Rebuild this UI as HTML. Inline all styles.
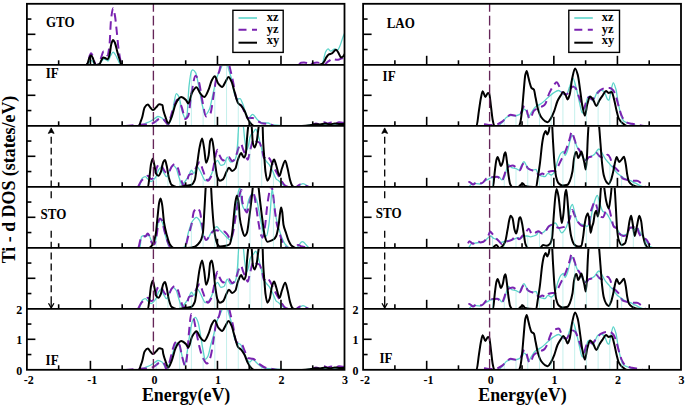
<!DOCTYPE html><html><head><meta charset="utf-8"><style>html,body{margin:0;padding:0;background:#fff;}svg{display:block;}</style></head><body>
<svg width="685" height="406" viewBox="0 0 685 406">
<rect width="685" height="406" fill="#fff"/>
<defs>
<clipPath id="cL0"><rect x="26.90" y="4.70" width="317.60" height="59.20"/></clipPath>
<clipPath id="cL1"><rect x="26.90" y="65.70" width="317.60" height="59.20"/></clipPath>
<clipPath id="cL2"><rect x="26.90" y="126.70" width="317.60" height="59.20"/></clipPath>
<clipPath id="cL3"><rect x="26.90" y="187.70" width="317.60" height="59.20"/></clipPath>
<clipPath id="cL4"><rect x="26.90" y="248.70" width="317.60" height="59.20"/></clipPath>
<clipPath id="cL5"><rect x="26.90" y="309.70" width="317.60" height="59.20"/></clipPath>
<clipPath id="cR0"><rect x="363.10" y="4.70" width="317.90" height="59.20"/></clipPath>
<clipPath id="cR1"><rect x="363.10" y="65.70" width="317.90" height="59.20"/></clipPath>
<clipPath id="cR2"><rect x="363.10" y="126.70" width="317.90" height="59.20"/></clipPath>
<clipPath id="cR3"><rect x="363.10" y="187.70" width="317.90" height="59.20"/></clipPath>
<clipPath id="cR4"><rect x="363.10" y="248.70" width="317.90" height="59.20"/></clipPath>
<clipPath id="cR5"><rect x="363.10" y="309.70" width="317.90" height="59.20"/></clipPath>
</defs>
<g clip-path="url(#cL0)" fill="none" stroke-linejoin="round" stroke-linecap="butt">
<path d="M80.00,65.05 C82.33,65.05 84.67,65.05 87.00,65.05 C87.67,65.05 88.33,62.94 89.00,62.20 C89.67,61.46 90.33,60.40 91.00,60.40 C91.67,60.40 92.33,61.30 93.00,62.00 C93.67,62.70 94.33,65.05 95.00,65.05 C96.33,65.05 97.67,64.58 99.00,64.00 C99.83,63.64 100.67,62.37 101.50,61.50 C102.33,60.63 103.17,58.80 104.00,58.80 C104.67,58.80 105.33,59.44 106.00,59.80 C106.67,60.16 107.33,61.00 108.00,61.00 C108.83,61.00 109.67,57.41 110.50,56.00 C111.37,54.53 112.23,52.20 113.10,52.20 C113.90,52.20 114.70,53.82 115.50,55.00 C116.33,56.23 117.17,58.47 118.00,60.00 C119.00,61.83 120.00,65.05 121.00,65.05 C121.67,65.05 122.33,65.05 123.00,65.05 C188.67,65.05 254.33,65.05 320.00,65.05 C320.77,65.05 321.53,64.38 322.30,63.60 C323.43,62.44 324.57,53.69 325.70,51.70 C326.47,50.36 327.23,48.90 328.00,48.90 C328.93,48.90 329.87,51.20 330.80,51.20 C332.13,51.20 333.47,48.90 334.80,48.90 C335.73,48.90 336.67,50.00 337.60,50.00 C338.37,50.00 339.13,47.65 339.90,46.00 C340.93,43.78 341.97,39.60 343.00,37.00 C343.67,35.33 344.33,34.00 345.00,32.50" stroke="#5cd4ca" stroke-width="1.3"/>
<path d="M80.00,65.05 C82.17,65.05 84.33,65.05 86.50,65.05 C87.17,65.05 87.83,61.93 88.50,60.00 C89.00,58.55 89.50,56.10 90.00,55.00 C90.33,54.27 90.67,53.30 91.00,53.30 C91.50,53.30 92.00,54.51 92.50,55.50 C93.17,56.82 93.83,60.35 94.50,62.00 C95.00,63.24 95.50,65.05 96.00,65.05 C97.00,65.05 98.00,64.66 99.00,64.00 C99.67,63.56 100.33,59.83 101.00,58.00 C101.90,55.52 102.80,51.20 103.70,51.20 C104.40,51.20 105.10,52.22 105.80,53.00 C106.37,53.63 106.93,55.60 107.50,55.60 C108.17,55.60 108.83,50.50 109.50,45.00 C110.00,40.88 110.50,24.29 111.00,20.00 C111.70,13.99 112.40,8.30 113.10,8.30 C113.73,8.30 114.37,12.46 115.00,16.00 C115.60,19.35 116.20,26.46 116.80,32.00 C117.40,37.54 118.00,44.81 118.60,49.30 C119.07,52.79 119.53,55.66 120.00,58.00 C120.43,60.18 120.87,62.83 121.30,63.50 C121.87,64.38 122.43,65.05 123.00,65.05 C181.33,65.05 239.67,65.05 298.00,65.05 C299.00,65.05 300.00,62.98 301.00,62.80 C302.00,62.62 303.00,62.50 304.00,62.50 C305.00,62.50 306.00,62.73 307.00,63.00 C308.00,63.27 309.00,65.05 310.00,65.05 C311.00,65.05 312.00,63.45 313.00,63.20 C314.33,62.87 315.67,62.60 317.00,62.60 C318.00,62.60 319.00,62.79 320.00,63.00 C321.33,63.27 322.67,65.05 324.00,65.05 C325.13,65.05 326.27,62.87 327.40,62.00 C328.53,61.13 329.67,60.48 330.80,59.70 C331.37,59.31 331.93,58.50 332.50,58.50 C333.33,58.50 334.17,59.41 335.00,59.50 C336.07,59.62 337.13,59.70 338.20,59.70 C339.13,59.70 340.07,58.89 341.00,58.60 C341.77,58.36 342.53,58.30 343.30,58.00 C343.87,57.78 344.43,57.20 345.00,56.80" stroke="#7a22b0" stroke-width="2" stroke-dasharray="8.5,5"/>
<path d="M80.00,65.05 C82.00,65.05 84.00,65.05 86.00,65.05 C86.50,65.05 87.00,64.26 87.50,63.50 C88.10,62.59 88.70,59.25 89.30,58.00 C89.87,56.82 90.43,55.30 91.00,55.30 C91.60,55.30 92.20,56.80 92.80,58.00 C93.37,59.13 93.93,61.95 94.50,63.00 C95.00,63.93 95.50,65.05 96.00,65.05 C97.17,65.05 98.33,64.65 99.50,64.00 C100.17,63.63 100.83,61.09 101.50,60.00 C102.10,59.02 102.70,57.50 103.30,57.50 C104.03,57.50 104.77,57.91 105.50,58.20 C106.20,58.48 106.90,59.30 107.60,59.30 C108.23,59.30 108.87,57.10 109.50,55.00 C110.10,53.01 110.70,45.99 111.30,44.00 C111.90,42.01 112.50,39.90 113.10,39.90 C113.73,39.90 114.37,41.58 115.00,43.00 C115.83,44.87 116.67,49.58 117.50,52.50 C118.27,55.19 119.03,57.82 119.80,60.00 C120.47,61.89 121.13,65.05 121.80,65.05 C122.20,65.05 122.60,65.05 123.00,65.05 C182.00,65.05 241.00,65.05 300.00,65.05 C304.00,65.05 308.00,65.05 312.00,65.05 C314.00,65.05 316.00,65.05 318.00,65.05 C319.33,65.05 320.67,64.60 322.00,64.00 C322.83,63.62 323.67,62.27 324.50,61.00 C325.10,60.09 325.70,58.34 326.30,57.40 C327.03,56.25 327.77,55.01 328.50,54.60 C329.67,53.94 330.83,53.98 332.00,53.40 C333.30,52.75 334.60,49.70 335.90,49.70 C336.67,49.70 337.43,51.24 338.20,52.30 C339.13,53.59 340.07,57.40 341.00,57.40 C341.77,57.40 342.53,56.89 343.30,56.30 C343.87,55.86 344.43,54.37 345.00,53.40" stroke="#000" stroke-width="2"/>
</g>
<g clip-path="url(#cL1)" fill="none" stroke-linejoin="round" stroke-linecap="butt">
<path d="M125.00,126.05 C130.00,126.05 135.00,126.05 140.00,126.05 C141.67,126.05 143.33,124.25 145.00,123.50 C146.67,122.75 148.33,122.33 150.00,121.50 C151.73,120.64 153.47,119.15 155.20,118.10 C156.13,117.53 157.07,116.50 158.00,116.50 C159.33,116.50 160.67,117.25 162.00,118.00 C163.33,118.75 164.67,121.68 166.00,122.50 C167.00,123.11 168.00,123.80 169.00,123.80 C170.00,123.80 171.00,119.82 172.00,116.00 C172.67,113.45 173.33,106.34 174.00,103.00 C174.77,99.16 175.53,93.70 176.30,93.70 C177.20,93.70 178.10,95.28 179.00,97.00 C180.00,98.91 181.00,107.80 182.00,110.80 C183.10,114.10 184.20,118.10 185.30,118.10 C185.87,118.10 186.43,116.80 187.00,115.00 C187.67,112.89 188.33,92.23 189.00,86.40 C189.83,79.12 190.67,72.24 191.50,71.00 C191.93,70.35 192.37,69.80 192.80,69.80 C193.73,69.80 194.67,71.11 195.60,72.60 C196.67,74.31 197.73,81.28 198.80,86.40 C199.90,91.68 201.00,99.81 202.10,104.30 C203.17,108.66 204.23,114.80 205.30,114.80 C206.67,114.80 208.03,112.04 209.40,109.20 C210.77,106.36 212.13,96.91 213.50,91.30 C214.83,85.83 216.17,79.51 217.50,75.80 C218.87,71.99 220.23,70.73 221.60,66.90 C222.23,65.12 222.87,60.00 223.50,60.00 C224.33,60.00 225.17,60.42 226.00,61.00 C226.97,61.67 227.93,66.92 228.90,70.10 C230.00,73.71 231.10,76.80 232.20,81.50 C233.00,84.91 233.80,92.27 234.60,94.50 C235.40,96.73 236.20,99.00 237.00,99.00 C238.00,99.00 239.00,98.60 240.00,98.60 C240.97,98.60 241.93,102.00 242.90,104.30 C243.97,106.83 245.03,111.76 246.10,114.00 C246.93,115.75 247.77,118.10 248.60,118.10 C249.93,118.10 251.27,114.40 252.60,114.40 C254.23,114.40 255.87,118.34 257.50,119.70 C259.13,121.06 260.77,123.00 262.40,123.00 C264.30,123.00 266.20,123.00 268.10,123.00 C269.43,123.00 270.77,124.88 272.10,125.00 C281.40,125.83 290.70,126.05 300.00,126.05 C305.00,126.05 310.00,124.50 315.00,124.50 C320.00,124.50 325.00,124.80 330.00,124.80 C335.00,124.80 340.00,124.60 345.00,124.50" stroke="#5cd4ca" stroke-width="1.3"/>
<path d="M125.00,126.05 C131.00,125.57 137.00,124.99 143.00,124.60 C145.33,124.45 147.67,124.45 150.00,124.20 C151.67,124.02 153.33,122.99 155.00,122.00 C156.00,121.41 157.00,120.05 158.00,119.50 C159.23,118.82 160.47,118.00 161.70,118.00 C162.80,118.00 163.90,119.87 165.00,121.00 C166.00,122.02 167.00,124.50 168.00,124.50 C169.17,124.50 170.33,117.50 171.50,114.00 C172.50,111.00 173.50,107.36 174.50,105.00 C175.40,102.87 176.30,99.70 177.20,99.70 C178.13,99.70 179.07,101.47 180.00,103.00 C180.67,104.09 181.33,106.12 182.00,108.00 C183.10,111.10 184.20,118.90 185.30,118.90 C186.30,118.90 187.30,117.54 188.30,115.70 C189.37,113.74 190.43,98.57 191.50,92.90 C192.87,85.63 194.23,75.80 195.60,75.80 C196.67,75.80 197.73,78.65 198.80,81.50 C199.90,84.44 201.00,94.12 202.10,99.40 C203.43,105.80 204.77,116.50 206.10,116.50 C207.47,116.50 208.83,115.54 210.20,114.00 C211.30,112.76 212.40,102.42 213.50,96.10 C214.57,89.98 215.63,79.74 216.70,76.60 C217.50,74.25 218.30,73.98 219.10,71.80 C219.73,70.07 220.37,65.47 221.00,64.00 C222.33,60.90 223.67,58.00 225.00,58.00 C226.17,58.00 227.33,59.71 228.50,62.00 C228.90,62.79 229.30,65.21 229.70,66.90 C230.80,71.54 231.90,76.29 233.00,81.50 C234.07,86.55 235.13,95.04 236.20,97.80 C237.30,100.64 238.40,101.93 239.50,103.50 C240.37,104.74 241.23,105.33 242.10,106.70 C243.17,108.39 244.23,111.98 245.30,114.00 C246.13,115.58 246.97,118.10 247.80,118.10 C249.40,118.10 251.00,118.10 252.60,118.10 C254.23,118.10 255.87,120.07 257.50,120.90 C259.40,121.87 261.30,123.32 263.20,123.50 C265.10,123.68 267.00,123.63 268.90,123.80 C270.93,123.99 272.97,126.05 275.00,126.05 C283.33,126.05 291.67,126.05 300.00,126.05 C303.33,126.05 306.67,126.05 310.00,126.05 C311.00,126.05 312.00,125.02 313.00,124.60 C314.00,124.18 315.00,123.50 316.00,123.50 C317.33,123.50 318.67,124.50 320.00,124.50 C321.33,124.50 322.67,122.30 324.00,122.30 C325.33,122.30 326.67,123.50 328.00,123.50 C329.00,123.50 330.00,122.50 331.00,122.50 C332.33,122.50 333.67,124.00 335.00,124.00 C336.33,124.00 337.67,122.30 339.00,122.30 C340.33,122.30 341.67,122.80 343.00,122.80 C343.67,122.80 344.33,122.60 345.00,122.50" stroke="#7a22b0" stroke-width="2" stroke-dasharray="8.5,5"/>
<path d="M125.00,126.05 C129.67,126.05 134.33,126.05 139.00,126.05 C139.50,126.05 140.00,123.37 140.50,122.00 C141.07,120.45 141.63,119.15 142.20,117.30 C143.00,114.69 143.80,108.70 144.60,107.50 C145.70,105.85 146.80,104.60 147.90,104.60 C148.70,104.60 149.50,106.62 150.30,107.50 C151.13,108.41 151.97,110.00 152.80,110.00 C153.87,110.00 154.93,108.42 156.00,107.50 C157.10,106.55 158.20,104.30 159.30,104.30 C159.87,104.30 160.43,104.46 161.00,104.60 C161.50,104.72 162.00,104.79 162.50,105.20 C162.77,105.42 163.03,108.84 163.30,110.00 C164.03,113.20 164.77,114.98 165.50,117.00 C166.40,119.48 167.30,123.50 168.20,123.50 C169.30,123.50 170.40,119.90 171.50,117.30 C172.83,114.15 174.17,107.31 175.50,104.30 C176.50,102.04 177.50,100.04 178.50,99.00 C179.40,98.07 180.30,97.00 181.20,97.00 C182.83,97.00 184.47,98.64 186.10,100.20 C186.83,100.90 187.57,103.50 188.30,103.50 C189.63,103.50 190.97,94.35 192.30,92.10 C193.67,89.79 195.03,87.20 196.40,87.20 C197.73,87.20 199.07,92.19 200.40,93.70 C201.67,95.13 202.93,97.00 204.20,97.00 C205.67,97.00 207.13,92.81 208.60,89.60 C209.57,87.49 210.53,82.90 211.50,81.00 C212.60,78.84 213.70,76.20 214.80,76.20 C215.93,76.20 217.07,82.05 218.20,83.50 C219.50,85.16 220.80,87.00 222.10,87.00 C223.27,87.00 224.43,83.41 225.60,81.60 C226.57,80.10 227.53,77.10 228.50,77.10 C229.50,77.10 230.50,79.52 231.50,81.60 C232.47,83.61 233.43,88.21 234.40,91.40 C235.60,95.36 236.80,101.36 238.00,103.00 C239.10,104.51 240.20,104.67 241.30,105.90 C242.37,107.09 243.43,108.79 244.50,110.80 C245.60,112.87 246.70,116.83 247.80,118.90 C248.87,120.91 249.93,122.79 251.00,123.80 C252.10,124.84 253.20,126.05 254.30,126.05 C269.53,126.05 284.77,126.05 300.00,126.05 C303.67,126.05 307.33,125.50 311.00,125.00 C312.33,124.82 313.67,124.20 315.00,124.20 C316.67,124.20 318.33,124.50 320.00,124.50 C321.67,124.50 323.33,123.50 325.00,123.50 C326.67,123.50 328.33,124.30 330.00,124.30 C331.67,124.30 333.33,123.50 335.00,123.50 C336.67,123.50 338.33,124.00 340.00,124.00 C341.67,124.00 343.33,123.87 345.00,123.80" stroke="#000" stroke-width="2"/>
</g>
<g clip-path="url(#cL2)" fill="none" stroke-linejoin="round" stroke-linecap="butt">
<path d="M125.00,187.05 C129.63,187.05 134.27,187.05 138.90,187.05 C140.00,187.05 141.10,179.22 142.20,178.30 C143.27,177.41 144.33,176.70 145.40,176.70 C146.23,176.70 147.07,178.39 147.90,179.10 C148.97,180.00 150.03,181.50 151.10,181.50 C152.73,181.50 154.37,179.17 156.00,176.70 C156.83,175.44 157.67,171.17 158.50,170.00 C159.30,168.87 160.10,167.70 160.90,167.70 C161.70,167.70 162.50,170.52 163.30,171.80 C164.40,173.55 165.50,176.70 166.60,176.70 C167.67,176.70 168.73,172.03 169.80,170.20 C170.90,168.31 172.00,165.30 173.10,165.30 C174.17,165.30 175.23,166.83 176.30,168.50 C177.13,169.81 177.97,174.36 178.80,176.70 C179.87,179.70 180.93,184.50 182.00,184.50 C183.00,184.50 184.00,182.68 185.00,181.50 C186.10,180.20 187.20,178.57 188.30,176.70 C189.37,174.89 190.43,170.20 191.50,170.20 C192.30,170.20 193.10,173.40 193.90,173.40 C195.00,173.40 196.10,166.90 197.20,166.90 C198.00,166.90 198.80,168.74 199.60,170.00 C200.57,171.53 201.53,174.21 202.50,176.00 C203.43,177.73 204.37,180.70 205.30,180.70 C206.13,180.70 206.97,180.32 207.80,179.90 C209.13,179.22 210.47,176.22 211.80,173.40 C212.90,171.08 214.00,165.72 215.10,163.70 C215.90,162.23 216.70,160.40 217.50,160.40 C218.60,160.40 219.70,165.30 220.80,165.30 C221.87,165.30 222.93,164.98 224.00,164.50 C225.10,164.01 226.20,157.10 227.30,157.10 C228.37,157.10 229.43,162.00 230.50,162.00 C231.60,162.00 232.70,161.70 233.80,161.20 C234.53,160.87 235.27,159.35 236.00,157.00 C236.50,155.40 237.00,150.30 237.50,145.00 C237.93,140.40 238.37,127.42 238.80,125.00 C239.53,120.90 240.27,118.00 241.00,118.00 C241.73,118.00 242.47,121.41 243.20,125.00 C243.73,127.61 244.27,136.49 244.80,140.20 C245.40,144.38 246.00,150.00 246.60,150.00 C247.23,150.00 247.87,147.26 248.50,145.00 C249.00,143.21 249.50,138.45 250.00,137.00 C250.50,135.55 251.00,134.68 251.50,134.00 C252.17,133.10 252.83,132.74 253.50,132.00 C254.27,131.15 255.03,129.10 255.80,129.10 C256.37,129.10 256.93,131.42 257.50,133.00 C258.17,134.86 258.83,137.70 259.50,140.20 C260.33,143.32 261.17,146.95 262.00,150.00 C262.83,153.05 263.67,156.93 264.50,158.60 C265.30,160.20 266.10,160.97 266.90,162.00 C267.83,163.20 268.77,163.93 269.70,165.30 C270.80,166.91 271.90,169.47 273.00,171.80 C274.07,174.06 275.13,178.06 276.20,179.10 C277.03,179.91 277.87,180.05 278.70,180.70 C279.77,181.53 280.83,183.25 281.90,184.00 C283.93,185.42 285.97,187.05 288.00,187.05 C290.67,187.05 293.33,187.05 296.00,187.05 C298.33,187.05 300.67,183.60 303.00,183.60 C305.33,183.60 307.67,187.05 310.00,187.05 C321.67,187.05 333.33,187.05 345.00,187.05" stroke="#5cd4ca" stroke-width="1.3"/>
<path d="M125.00,187.05 C129.10,187.05 133.20,187.05 137.30,187.05 C138.67,187.05 140.03,182.14 141.40,180.70 C142.73,179.30 144.07,178.47 145.40,177.50 C146.23,176.89 147.07,175.80 147.90,175.80 C148.97,175.80 150.03,179.10 151.10,179.10 C152.20,179.10 153.30,178.09 154.40,176.70 C155.20,175.69 156.00,169.50 156.80,167.70 C157.63,165.83 158.47,163.70 159.30,163.70 C160.10,163.70 160.90,165.10 161.70,166.10 C162.80,167.47 163.90,170.95 165.00,171.80 C166.07,172.62 167.13,173.40 168.20,173.40 C169.30,173.40 170.40,168.26 171.50,166.90 C172.57,165.58 173.63,164.00 174.70,164.00 C175.80,164.00 176.90,166.33 178.00,168.50 C179.07,170.61 180.13,176.96 181.20,179.90 C182.03,182.20 182.87,185.60 183.70,185.60 C184.77,185.60 185.83,183.49 186.90,181.50 C187.60,180.19 188.30,175.53 189.00,175.00 C190.37,173.97 191.73,174.29 193.10,173.40 C194.47,172.51 195.83,167.48 197.20,165.30 C198.00,164.02 198.80,162.00 199.60,162.00 C200.70,162.00 201.80,167.34 202.90,170.20 C203.70,172.28 204.50,175.09 205.30,176.70 C206.13,178.38 206.97,180.70 207.80,180.70 C208.87,180.70 209.93,178.77 211.00,176.70 C211.83,175.09 212.67,170.69 213.50,166.90 C214.30,163.26 215.10,156.62 215.90,153.90 C216.43,152.09 216.97,149.80 217.50,149.80 C218.33,149.80 219.17,154.85 220.00,156.30 C221.07,158.16 222.13,160.40 223.20,160.40 C224.30,160.40 225.40,158.54 226.50,158.00 C227.30,157.61 228.10,157.10 228.90,157.10 C230.00,157.10 231.10,161.20 232.20,161.20 C232.90,161.20 233.60,160.52 234.30,159.80 C235.13,158.94 235.97,155.97 236.80,153.70 C237.60,151.52 238.40,147.75 239.20,146.30 C239.83,145.15 240.47,143.80 241.10,143.80 C241.70,143.80 242.30,147.25 242.90,148.80 C243.93,151.47 244.97,153.97 246.00,156.20 C246.60,157.50 247.20,159.80 247.80,159.80 C248.43,159.80 249.07,154.97 249.70,152.50 C250.53,149.25 251.37,144.82 252.20,142.60 C252.80,141.00 253.40,138.90 254.00,138.90 C254.83,138.90 255.67,140.92 256.50,141.40 C257.50,141.98 258.50,141.88 259.50,142.60 C260.33,143.20 261.17,147.15 262.00,150.00 C262.67,152.28 263.33,158.00 264.00,158.00 C264.83,158.00 265.67,155.50 266.50,155.50 C267.57,155.50 268.63,157.36 269.70,158.80 C270.80,160.29 271.90,163.10 273.00,165.30 C274.07,167.43 275.13,169.81 276.20,171.80 C277.30,173.85 278.40,175.64 279.50,177.50 C280.30,178.86 281.10,180.35 281.90,181.50 C283.00,183.08 284.10,185.04 285.20,185.60 C286.80,186.41 288.40,187.05 290.00,187.05 C292.00,187.05 294.00,187.05 296.00,187.05 C297.33,187.05 298.67,184.50 300.00,184.50 C301.67,184.50 303.33,185.09 305.00,185.50 C306.67,185.91 308.33,187.05 310.00,187.05 C321.67,187.05 333.33,187.05 345.00,187.05" stroke="#7a22b0" stroke-width="2" stroke-dasharray="8.5,5"/>
<path d="M125.00,187.05 C132.63,187.05 140.27,187.05 147.90,187.05 C148.43,187.05 148.97,180.54 149.50,176.70 C150.03,172.86 150.57,165.98 151.10,163.70 C151.67,161.28 152.23,158.80 152.80,158.80 C153.33,158.80 153.87,162.90 154.40,165.30 C154.93,167.70 155.47,172.49 156.00,173.40 C156.83,174.82 157.67,175.80 158.50,175.80 C159.30,175.80 160.10,173.69 160.90,171.80 C161.70,169.91 162.50,163.36 163.30,162.00 C163.87,161.04 164.43,160.10 165.00,160.10 C165.53,160.10 166.07,163.17 166.60,165.30 C167.40,168.50 168.20,175.48 169.00,178.30 C169.83,181.23 170.67,184.17 171.50,184.80 C173.40,186.24 175.30,187.05 177.20,187.05 C179.80,187.05 182.40,186.41 185.00,186.00 C187.17,185.66 189.33,185.58 191.50,184.80 C192.60,184.41 193.70,182.67 194.80,179.90 C195.60,177.88 196.40,169.12 197.20,163.70 C198.00,158.28 198.80,151.17 199.60,147.40 C200.43,143.47 201.27,138.40 202.10,138.40 C202.80,138.40 203.50,144.82 204.20,149.00 C204.83,152.78 205.47,162.80 206.10,162.80 C206.93,162.80 207.77,159.33 208.60,155.50 C209.13,153.05 209.67,142.32 210.20,140.90 C210.73,139.48 211.27,138.40 211.80,138.40 C212.37,138.40 212.93,143.44 213.50,147.40 C214.03,151.13 214.57,159.71 215.10,163.70 C215.90,169.69 216.70,175.82 217.50,177.50 C218.33,179.25 219.17,180.70 220.00,180.70 C221.07,180.70 222.13,179.97 223.20,179.10 C224.30,178.21 225.40,173.91 226.50,171.80 C227.30,170.27 228.10,167.70 228.90,167.70 C230.00,167.70 231.10,171.00 232.20,171.00 C233.27,171.00 234.33,169.93 235.40,168.50 C236.10,167.56 236.80,163.20 237.50,161.00 C238.07,159.22 238.63,157.38 239.20,156.20 C239.83,154.88 240.47,153.10 241.10,153.10 C241.70,153.10 242.30,155.49 242.90,156.20 C243.33,156.71 243.77,157.40 244.20,157.40 C244.73,157.40 245.27,155.81 245.80,153.70 C246.27,151.86 246.73,141.38 247.20,136.50 C247.73,130.92 248.27,124.18 248.80,122.00 C249.30,119.95 249.80,118.00 250.30,118.00 C250.80,118.00 251.30,123.31 251.80,128.00 C252.13,131.13 252.47,140.96 252.80,142.60 C253.40,145.55 254.00,147.50 254.60,147.50 C255.23,147.50 255.87,145.00 256.50,142.60 C257.17,140.07 257.83,132.20 258.50,128.00 C259.10,124.22 259.70,118.00 260.30,118.00 C261.03,118.00 261.77,119.78 262.50,124.00 C262.73,125.34 262.97,138.30 263.20,142.60 C263.63,150.58 264.07,154.53 264.50,160.00 C264.83,164.21 265.17,169.61 265.50,172.00 C266.10,176.31 266.70,180.70 267.30,180.70 C268.10,180.70 268.90,178.74 269.70,176.70 C270.50,174.66 271.30,166.05 272.10,163.70 C272.77,161.74 273.43,159.60 274.10,159.60 C274.80,159.60 275.50,163.26 276.20,165.30 C277.30,168.50 278.40,175.80 279.50,175.80 C280.30,175.80 281.10,170.64 281.90,168.50 C283.00,165.55 284.10,160.70 285.20,160.70 C286.00,160.70 286.80,165.41 287.60,168.50 C288.40,171.59 289.20,177.17 290.00,179.90 C290.67,182.18 291.33,184.42 292.00,185.30 C292.67,186.18 293.33,187.05 294.00,187.05 C311.00,187.05 328.00,187.05 345.00,187.05" stroke="#000" stroke-width="2"/>
</g>
<g clip-path="url(#cL3)" fill="none" stroke-linejoin="round" stroke-linecap="butt">
<path d="M125.00,248.05 C129.93,248.05 134.87,248.05 139.80,248.05 C140.33,248.05 140.87,237.29 141.40,236.80 C142.20,236.07 143.00,235.70 143.80,235.70 C144.63,235.70 145.47,236.00 146.30,236.00 C147.10,236.00 147.90,235.20 148.70,235.20 C149.50,235.20 150.30,238.50 151.10,240.10 C151.93,241.77 152.77,245.00 153.60,245.00 C154.40,245.00 155.20,241.01 156.00,237.70 C156.83,234.25 157.67,223.07 158.50,221.40 C159.03,220.33 159.57,219.40 160.10,219.40 C160.90,219.40 161.70,221.20 162.50,223.00 C163.33,224.87 164.17,231.32 165.00,234.40 C166.07,238.34 167.13,242.55 168.20,244.20 C169.47,246.16 170.73,248.05 172.00,248.05 C175.33,248.05 178.67,248.05 182.00,248.05 C183.10,248.05 184.20,247.21 185.30,246.00 C186.30,244.90 187.30,236.29 188.30,232.80 C189.63,228.14 190.97,223.38 192.30,221.40 C193.67,219.37 195.03,217.30 196.40,217.30 C197.47,217.30 198.53,218.85 199.60,220.60 C200.43,221.96 201.27,226.32 202.10,229.50 C202.63,231.53 203.17,234.92 203.70,236.00 C204.80,238.23 205.90,240.10 207.00,240.10 C208.07,240.10 209.13,236.13 210.20,234.40 C211.30,232.62 212.40,230.74 213.50,229.50 C214.57,228.30 215.63,226.60 216.70,226.60 C217.80,226.60 218.90,229.12 220.00,230.30 C221.33,231.73 222.67,233.05 224.00,234.40 C225.37,235.78 226.73,237.34 228.10,238.50 C229.17,239.41 230.23,240.90 231.30,240.90 C232.13,240.90 232.97,230.73 233.80,224.70 C234.60,218.91 235.40,210.55 236.20,205.10 C237.03,199.42 237.87,193.14 238.70,190.50 C239.13,189.13 239.57,187.50 240.00,187.50 C240.43,187.50 240.87,198.01 241.30,200.30 C242.10,204.53 242.90,207.17 243.70,208.40 C244.50,209.63 245.30,210.80 246.10,210.80 C246.93,210.80 247.77,202.61 248.60,200.30 C249.67,197.34 250.73,193.80 251.80,193.80 C252.63,193.80 253.47,194.59 254.30,195.40 C255.10,196.18 255.90,198.02 256.70,200.30 C257.50,202.58 258.30,207.63 259.10,211.60 C259.93,215.73 260.77,220.90 261.60,224.70 C262.40,228.35 263.20,233.51 264.00,234.40 C264.83,235.33 265.67,236.00 266.50,236.00 C267.30,236.00 268.10,229.98 268.90,224.70 C269.43,221.18 269.97,214.32 270.50,208.40 C271.03,202.48 271.57,188.90 272.10,188.90 C272.67,188.90 273.23,196.32 273.80,200.30 C274.60,205.92 275.40,213.99 276.20,218.10 C277.03,222.38 277.87,225.02 278.70,227.90 C279.77,231.59 280.83,235.14 281.90,237.70 C283.00,240.34 284.10,242.91 285.20,244.20 C286.80,246.07 288.40,248.05 290.00,248.05 C292.00,248.05 294.00,248.05 296.00,248.05 C298.10,248.05 300.20,241.70 302.30,241.70 C304.87,241.70 307.43,248.05 310.00,248.05 C321.67,248.05 333.33,248.05 345.00,248.05" stroke="#5cd4ca" stroke-width="1.3"/>
<path d="M125.00,248.05 C129.37,248.05 133.73,248.05 138.10,248.05 C138.93,248.05 139.77,240.94 140.60,239.30 C141.40,237.73 142.20,236.00 143.00,236.00 C143.80,236.00 144.60,236.40 145.40,236.40 C146.13,236.40 146.87,233.60 147.60,233.60 C148.23,233.60 148.87,234.90 149.50,236.00 C150.33,237.44 151.17,242.75 152.00,243.30 C152.80,243.83 153.60,244.20 154.40,244.20 C155.20,244.20 156.00,238.73 156.80,234.40 C157.37,231.33 157.93,223.31 158.50,221.40 C158.93,219.94 159.37,218.50 159.80,218.50 C160.43,218.50 161.07,219.08 161.70,219.80 C162.50,220.71 163.30,226.51 164.10,229.50 C165.20,233.61 166.30,237.83 167.40,240.90 C168.20,243.13 169.00,246.16 169.80,246.60 C171.53,247.56 173.27,248.05 175.00,248.05 C177.33,248.05 179.67,248.05 182.00,248.05 C183.00,248.05 184.00,247.63 185.00,247.00 C186.10,246.31 187.20,239.77 188.30,236.00 C189.37,232.34 190.43,229.32 191.50,224.70 C192.30,221.23 193.10,213.07 193.90,211.60 C195.00,209.57 196.10,208.10 197.20,208.10 C198.00,208.10 198.80,209.31 199.60,210.80 C200.43,212.35 201.27,219.85 202.10,224.70 C202.63,227.80 203.17,232.53 203.70,234.40 C204.50,237.21 205.30,240.10 206.10,240.10 C207.20,240.10 208.30,237.33 209.40,236.00 C210.77,234.35 212.13,231.80 213.50,231.20 C214.57,230.73 215.63,230.30 216.70,230.30 C218.33,230.30 219.97,232.00 221.60,232.00 C222.40,232.00 223.20,231.50 224.00,231.50 C225.10,231.50 226.20,233.17 227.30,234.40 C228.37,235.59 229.43,239.30 230.50,239.30 C231.33,239.30 232.17,235.85 233.00,232.80 C233.80,229.87 234.60,222.98 235.40,218.10 C236.20,213.22 237.00,207.67 237.80,203.50 C238.63,199.15 239.47,194.10 240.30,192.10 C240.70,191.14 241.10,190.00 241.50,190.00 C241.70,190.00 241.90,199.00 242.10,200.30 C242.90,205.51 243.70,206.59 244.50,208.40 C245.30,210.21 246.10,212.50 246.90,212.50 C247.77,212.50 248.63,206.32 249.50,203.00 C250.17,200.45 250.83,196.15 251.50,195.00 C252.13,193.91 252.77,192.90 253.40,192.90 C254.23,192.90 255.07,200.36 255.90,205.10 C256.70,209.65 257.50,216.68 258.30,221.40 C259.13,226.31 259.97,232.01 260.80,234.40 C261.33,235.93 261.87,237.70 262.40,237.70 C263.20,237.70 264.00,232.40 264.80,227.90 C265.63,223.21 266.47,211.17 267.30,205.10 C268.10,199.27 268.90,193.95 269.70,190.50 C270.23,188.20 270.77,185.00 271.30,185.00 C271.87,185.00 272.43,190.05 273.00,193.80 C273.53,197.33 274.07,204.21 274.60,208.40 C275.40,214.69 276.20,221.18 277.00,224.70 C277.83,228.36 278.67,230.04 279.50,232.80 C280.30,235.45 281.10,238.67 281.90,240.90 C282.70,243.13 283.50,246.19 284.30,246.60 C286.20,247.58 288.10,248.05 290.00,248.05 C291.67,248.05 293.33,248.05 295.00,248.05 C296.00,248.05 297.00,245.00 298.00,245.00 C299.33,245.00 300.67,246.15 302.00,246.50 C304.67,247.21 307.33,248.05 310.00,248.05 C321.67,248.05 333.33,248.05 345.00,248.05" stroke="#7a22b0" stroke-width="2" stroke-dasharray="8.5,5"/>
<path d="M125.00,248.05 C132.90,248.05 140.80,248.05 148.70,248.05 C150.07,248.05 151.43,246.28 152.80,244.20 C153.77,242.73 154.73,239.37 155.70,234.40 C156.33,231.14 156.97,222.19 157.60,216.50 C158.17,211.41 158.73,204.07 159.30,201.90 C159.73,200.24 160.17,198.60 160.60,198.60 C161.13,198.60 161.67,202.11 162.20,205.10 C162.83,208.66 163.47,219.05 164.10,223.00 C164.93,228.20 165.77,231.32 166.60,234.40 C167.67,238.34 168.73,242.63 169.80,244.20 C171.17,246.21 172.53,248.05 173.90,248.05 C177.60,248.05 181.30,248.05 185.00,248.05 C188.27,248.05 191.53,247.51 194.80,246.60 C195.87,246.30 196.93,245.26 198.00,244.20 C199.10,243.11 200.20,241.83 201.30,239.30 C201.83,238.07 202.37,236.22 202.90,232.80 C203.43,229.38 203.97,217.05 204.50,208.40 C204.93,201.37 205.37,191.35 205.80,186.00 C206.37,179.01 206.93,170.00 207.50,170.00 C208.17,170.00 208.83,170.00 209.50,170.00 C210.00,170.00 210.50,179.14 211.00,186.00 C211.27,189.66 211.53,196.15 211.80,200.30 C212.37,209.12 212.93,217.29 213.50,223.00 C214.03,228.37 214.57,233.36 215.10,236.00 C215.90,239.96 216.70,243.00 217.50,244.20 C218.33,245.45 219.17,246.60 220.00,246.60 C221.90,246.60 223.80,246.21 225.70,245.80 C227.03,245.51 228.37,245.25 229.70,244.20 C230.53,243.54 231.37,238.20 232.20,232.80 C232.73,229.34 233.27,221.63 233.80,216.50 C234.33,211.37 234.87,204.90 235.40,201.90 C235.93,198.90 236.47,195.40 237.00,195.40 C237.57,195.40 238.13,199.22 238.70,203.50 C239.00,205.77 239.30,214.02 239.60,216.50 C240.43,223.38 241.27,226.54 242.10,229.50 C242.90,232.34 243.70,236.00 244.50,236.00 C245.30,236.00 246.10,234.56 246.90,232.80 C247.73,230.96 248.57,222.53 249.40,216.50 C250.20,210.71 251.00,203.94 251.80,197.00 C252.20,193.53 252.60,188.01 253.00,186.00 C253.83,181.81 254.67,178.00 255.50,178.00 C256.43,178.00 257.37,181.85 258.30,186.00 C258.87,188.52 259.43,195.61 260.00,200.30 C260.80,206.92 261.60,213.90 262.40,219.80 C263.20,225.70 264.00,233.26 264.80,236.00 C265.63,238.85 266.47,241.70 267.30,241.70 C268.37,241.70 269.43,241.25 270.50,240.90 C271.60,240.54 272.70,240.11 273.80,239.30 C274.60,238.71 275.40,237.68 276.20,236.00 C277.03,234.25 277.87,229.84 278.70,224.70 C279.13,222.03 279.57,216.10 280.00,213.30 C280.37,210.93 280.73,207.60 281.10,207.60 C281.47,207.60 281.83,209.67 282.20,211.60 C282.63,213.89 283.07,222.45 283.50,224.70 C284.33,229.02 285.17,230.19 286.00,232.80 C286.80,235.31 287.60,238.31 288.40,240.10 C289.50,242.56 290.60,244.90 291.70,245.80 C293.13,246.98 294.57,248.05 296.00,248.05 C312.33,248.05 328.67,248.05 345.00,248.05" stroke="#000" stroke-width="2"/>
</g>
<g clip-path="url(#cL4)" fill="none" stroke-linejoin="round" stroke-linecap="butt">
<path d="M125.00,309.05 C129.63,309.05 134.27,309.05 138.90,309.05 C140.00,309.05 141.10,301.22 142.20,300.30 C143.27,299.41 144.33,298.70 145.40,298.70 C146.23,298.70 147.07,300.39 147.90,301.10 C148.97,302.00 150.03,303.50 151.10,303.50 C152.73,303.50 154.37,301.17 156.00,298.70 C156.83,297.44 157.67,293.17 158.50,292.00 C159.30,290.87 160.10,289.70 160.90,289.70 C161.70,289.70 162.50,292.52 163.30,293.80 C164.40,295.55 165.50,298.70 166.60,298.70 C167.67,298.70 168.73,294.03 169.80,292.20 C170.90,290.31 172.00,287.30 173.10,287.30 C174.17,287.30 175.23,288.83 176.30,290.50 C177.13,291.81 177.97,296.36 178.80,298.70 C179.87,301.70 180.93,306.50 182.00,306.50 C183.00,306.50 184.00,304.68 185.00,303.50 C186.10,302.20 187.20,300.57 188.30,298.70 C189.37,296.89 190.43,292.20 191.50,292.20 C192.30,292.20 193.10,295.40 193.90,295.40 C195.00,295.40 196.10,288.90 197.20,288.90 C198.00,288.90 198.80,290.74 199.60,292.00 C200.57,293.53 201.53,296.21 202.50,298.00 C203.43,299.73 204.37,302.70 205.30,302.70 C206.13,302.70 206.97,302.32 207.80,301.90 C209.13,301.22 210.47,298.22 211.80,295.40 C212.90,293.08 214.00,287.72 215.10,285.70 C215.90,284.23 216.70,282.40 217.50,282.40 C218.60,282.40 219.70,287.30 220.80,287.30 C221.87,287.30 222.93,286.98 224.00,286.50 C225.10,286.01 226.20,279.10 227.30,279.10 C228.37,279.10 229.43,284.00 230.50,284.00 C231.60,284.00 232.70,283.70 233.80,283.20 C234.53,282.87 235.27,281.35 236.00,279.00 C236.50,277.40 237.00,272.30 237.50,267.00 C237.93,262.40 238.37,249.42 238.80,247.00 C239.53,242.90 240.27,240.00 241.00,240.00 C241.73,240.00 242.47,243.41 243.20,247.00 C243.73,249.61 244.27,258.49 244.80,262.20 C245.40,266.38 246.00,272.00 246.60,272.00 C247.23,272.00 247.87,269.26 248.50,267.00 C249.00,265.21 249.50,260.45 250.00,259.00 C250.50,257.55 251.00,256.68 251.50,256.00 C252.17,255.10 252.83,254.74 253.50,254.00 C254.27,253.15 255.03,251.10 255.80,251.10 C256.37,251.10 256.93,253.42 257.50,255.00 C258.17,256.86 258.83,259.70 259.50,262.20 C260.33,265.32 261.17,268.95 262.00,272.00 C262.83,275.05 263.67,278.93 264.50,280.60 C265.30,282.20 266.10,282.97 266.90,284.00 C267.83,285.20 268.77,285.93 269.70,287.30 C270.80,288.91 271.90,291.47 273.00,293.80 C274.07,296.06 275.13,300.06 276.20,301.10 C277.03,301.91 277.87,302.05 278.70,302.70 C279.77,303.53 280.83,305.25 281.90,306.00 C283.93,307.42 285.97,309.05 288.00,309.05 C290.67,309.05 293.33,309.05 296.00,309.05 C298.33,309.05 300.67,305.60 303.00,305.60 C305.33,305.60 307.67,309.05 310.00,309.05 C321.67,309.05 333.33,309.05 345.00,309.05" stroke="#5cd4ca" stroke-width="1.3"/>
<path d="M125.00,309.05 C129.10,309.05 133.20,309.05 137.30,309.05 C138.67,309.05 140.03,304.14 141.40,302.70 C142.73,301.30 144.07,300.47 145.40,299.50 C146.23,298.89 147.07,297.80 147.90,297.80 C148.97,297.80 150.03,301.10 151.10,301.10 C152.20,301.10 153.30,300.09 154.40,298.70 C155.20,297.69 156.00,291.50 156.80,289.70 C157.63,287.83 158.47,285.70 159.30,285.70 C160.10,285.70 160.90,287.10 161.70,288.10 C162.80,289.47 163.90,292.95 165.00,293.80 C166.07,294.62 167.13,295.40 168.20,295.40 C169.30,295.40 170.40,290.26 171.50,288.90 C172.57,287.58 173.63,286.00 174.70,286.00 C175.80,286.00 176.90,288.33 178.00,290.50 C179.07,292.61 180.13,298.96 181.20,301.90 C182.03,304.20 182.87,307.60 183.70,307.60 C184.77,307.60 185.83,305.49 186.90,303.50 C187.60,302.19 188.30,297.53 189.00,297.00 C190.37,295.97 191.73,296.29 193.10,295.40 C194.47,294.51 195.83,289.48 197.20,287.30 C198.00,286.02 198.80,284.00 199.60,284.00 C200.70,284.00 201.80,289.34 202.90,292.20 C203.70,294.28 204.50,297.09 205.30,298.70 C206.13,300.38 206.97,302.70 207.80,302.70 C208.87,302.70 209.93,300.77 211.00,298.70 C211.83,297.09 212.67,292.69 213.50,288.90 C214.30,285.26 215.10,278.62 215.90,275.90 C216.43,274.09 216.97,271.80 217.50,271.80 C218.33,271.80 219.17,276.85 220.00,278.30 C221.07,280.16 222.13,282.40 223.20,282.40 C224.30,282.40 225.40,280.54 226.50,280.00 C227.30,279.61 228.10,279.10 228.90,279.10 C230.00,279.10 231.10,283.20 232.20,283.20 C232.90,283.20 233.60,282.52 234.30,281.80 C235.13,280.94 235.97,277.97 236.80,275.70 C237.60,273.52 238.40,269.75 239.20,268.30 C239.83,267.15 240.47,265.80 241.10,265.80 C241.70,265.80 242.30,269.25 242.90,270.80 C243.93,273.47 244.97,275.97 246.00,278.20 C246.60,279.50 247.20,281.80 247.80,281.80 C248.43,281.80 249.07,276.97 249.70,274.50 C250.53,271.25 251.37,266.82 252.20,264.60 C252.80,263.00 253.40,260.90 254.00,260.90 C254.83,260.90 255.67,262.92 256.50,263.40 C257.50,263.98 258.50,263.88 259.50,264.60 C260.33,265.20 261.17,269.15 262.00,272.00 C262.67,274.28 263.33,280.00 264.00,280.00 C264.83,280.00 265.67,277.50 266.50,277.50 C267.57,277.50 268.63,279.36 269.70,280.80 C270.80,282.29 271.90,285.10 273.00,287.30 C274.07,289.43 275.13,291.81 276.20,293.80 C277.30,295.85 278.40,297.64 279.50,299.50 C280.30,300.86 281.10,302.35 281.90,303.50 C283.00,305.08 284.10,307.04 285.20,307.60 C286.80,308.41 288.40,309.05 290.00,309.05 C292.00,309.05 294.00,309.05 296.00,309.05 C297.33,309.05 298.67,306.50 300.00,306.50 C301.67,306.50 303.33,307.09 305.00,307.50 C306.67,307.91 308.33,309.05 310.00,309.05 C321.67,309.05 333.33,309.05 345.00,309.05" stroke="#7a22b0" stroke-width="2" stroke-dasharray="8.5,5"/>
<path d="M125.00,309.05 C132.63,309.05 140.27,309.05 147.90,309.05 C148.43,309.05 148.97,302.54 149.50,298.70 C150.03,294.86 150.57,287.98 151.10,285.70 C151.67,283.28 152.23,280.80 152.80,280.80 C153.33,280.80 153.87,284.90 154.40,287.30 C154.93,289.70 155.47,294.49 156.00,295.40 C156.83,296.82 157.67,297.80 158.50,297.80 C159.30,297.80 160.10,295.69 160.90,293.80 C161.70,291.91 162.50,285.36 163.30,284.00 C163.87,283.04 164.43,282.10 165.00,282.10 C165.53,282.10 166.07,285.17 166.60,287.30 C167.40,290.50 168.20,297.48 169.00,300.30 C169.83,303.23 170.67,306.17 171.50,306.80 C173.40,308.24 175.30,309.05 177.20,309.05 C179.80,309.05 182.40,308.41 185.00,308.00 C187.17,307.66 189.33,307.58 191.50,306.80 C192.60,306.41 193.70,304.67 194.80,301.90 C195.60,299.88 196.40,291.12 197.20,285.70 C198.00,280.28 198.80,273.17 199.60,269.40 C200.43,265.47 201.27,260.40 202.10,260.40 C202.80,260.40 203.50,266.82 204.20,271.00 C204.83,274.78 205.47,284.80 206.10,284.80 C206.93,284.80 207.77,281.33 208.60,277.50 C209.13,275.05 209.67,264.32 210.20,262.90 C210.73,261.48 211.27,260.40 211.80,260.40 C212.37,260.40 212.93,265.44 213.50,269.40 C214.03,273.13 214.57,281.71 215.10,285.70 C215.90,291.69 216.70,297.82 217.50,299.50 C218.33,301.25 219.17,302.70 220.00,302.70 C221.07,302.70 222.13,301.97 223.20,301.10 C224.30,300.21 225.40,295.91 226.50,293.80 C227.30,292.27 228.10,289.70 228.90,289.70 C230.00,289.70 231.10,293.00 232.20,293.00 C233.27,293.00 234.33,291.93 235.40,290.50 C236.10,289.56 236.80,285.20 237.50,283.00 C238.07,281.22 238.63,279.38 239.20,278.20 C239.83,276.88 240.47,275.10 241.10,275.10 C241.70,275.10 242.30,277.49 242.90,278.20 C243.33,278.71 243.77,279.40 244.20,279.40 C244.73,279.40 245.27,277.81 245.80,275.70 C246.27,273.86 246.73,263.38 247.20,258.50 C247.73,252.92 248.27,246.18 248.80,244.00 C249.30,241.95 249.80,240.00 250.30,240.00 C250.80,240.00 251.30,245.31 251.80,250.00 C252.13,253.13 252.47,262.96 252.80,264.60 C253.40,267.55 254.00,269.50 254.60,269.50 C255.23,269.50 255.87,267.00 256.50,264.60 C257.17,262.07 257.83,254.20 258.50,250.00 C259.10,246.22 259.70,240.00 260.30,240.00 C261.03,240.00 261.77,241.78 262.50,246.00 C262.73,247.34 262.97,260.30 263.20,264.60 C263.63,272.58 264.07,276.53 264.50,282.00 C264.83,286.21 265.17,291.61 265.50,294.00 C266.10,298.31 266.70,302.70 267.30,302.70 C268.10,302.70 268.90,300.74 269.70,298.70 C270.50,296.66 271.30,288.05 272.10,285.70 C272.77,283.74 273.43,281.60 274.10,281.60 C274.80,281.60 275.50,285.26 276.20,287.30 C277.30,290.50 278.40,297.80 279.50,297.80 C280.30,297.80 281.10,292.64 281.90,290.50 C283.00,287.55 284.10,282.70 285.20,282.70 C286.00,282.70 286.80,287.41 287.60,290.50 C288.40,293.59 289.20,299.17 290.00,301.90 C290.67,304.18 291.33,306.42 292.00,307.30 C292.67,308.18 293.33,309.05 294.00,309.05 C311.00,309.05 328.00,309.05 345.00,309.05" stroke="#000" stroke-width="2"/>
</g>
<g clip-path="url(#cL5)" fill="none" stroke-linejoin="round" stroke-linecap="butt">
<path d="M125.00,370.05 C130.00,370.05 135.00,370.05 140.00,370.05 C141.67,370.05 143.33,368.25 145.00,367.50 C146.67,366.75 148.33,366.33 150.00,365.50 C151.73,364.64 153.47,363.15 155.20,362.10 C156.13,361.53 157.07,360.50 158.00,360.50 C159.33,360.50 160.67,361.20 162.00,362.00 C163.33,362.80 164.67,368.00 166.00,368.00 C167.17,368.00 168.33,366.01 169.50,364.00 C170.50,362.28 171.50,357.26 172.50,354.00 C173.33,351.28 174.17,347.29 175.00,346.00 C176.00,344.45 177.00,343.00 178.00,343.00 C178.83,343.00 179.67,346.36 180.50,349.00 C181.17,351.11 181.83,355.38 182.50,358.00 C183.17,360.62 183.83,365.00 184.50,365.00 C185.33,365.00 186.17,357.63 187.00,353.00 C188.00,347.45 189.00,338.55 190.00,333.00 C190.83,328.37 191.67,322.67 192.50,321.00 C193.47,319.07 194.43,317.40 195.40,317.40 C196.27,317.40 197.13,319.70 198.00,322.00 C198.83,324.21 199.67,330.36 200.50,335.00 C201.33,339.64 202.17,345.96 203.00,350.00 C203.77,353.72 204.53,359.40 205.30,359.40 C206.20,359.40 207.10,357.71 208.00,356.00 C209.00,354.10 210.00,347.71 211.00,344.00 C211.83,340.90 212.67,338.34 213.50,335.30 C214.83,330.43 216.17,323.51 217.50,319.80 C218.87,315.99 220.23,314.73 221.60,310.90 C222.23,309.12 222.87,304.00 223.50,304.00 C224.33,304.00 225.17,304.42 226.00,305.00 C226.97,305.67 227.93,310.92 228.90,314.10 C230.00,317.71 231.10,320.80 232.20,325.50 C233.00,328.91 233.80,336.27 234.60,338.50 C235.40,340.73 236.20,342.43 237.00,343.00 C238.20,343.85 239.40,343.62 240.60,344.50 C241.40,345.09 242.20,348.03 243.00,349.90 C244.10,352.48 245.20,356.15 246.30,358.00 C247.37,359.79 248.43,362.10 249.50,362.10 C250.60,362.10 251.70,359.70 252.80,359.70 C254.40,359.70 256.00,362.41 257.60,363.70 C259.23,365.01 260.87,367.03 262.50,367.50 C264.67,368.12 266.83,368.42 269.00,368.60 C279.33,369.46 289.67,370.05 300.00,370.05 C305.00,370.05 310.00,368.50 315.00,368.50 C320.00,368.50 325.00,368.80 330.00,368.80 C335.00,368.80 340.00,368.60 345.00,368.50" stroke="#5cd4ca" stroke-width="1.3"/>
<path d="M125.00,370.05 C131.00,369.57 137.00,368.99 143.00,368.60 C145.33,368.45 147.67,368.45 150.00,368.20 C151.67,368.02 153.33,366.99 155.00,366.00 C156.00,365.41 157.00,364.05 158.00,363.50 C159.23,362.82 160.47,362.00 161.70,362.00 C162.80,362.00 163.90,363.19 165.00,365.00 C165.33,365.55 165.67,368.80 166.00,368.80 C167.17,368.80 168.33,365.08 169.50,362.00 C170.50,359.36 171.50,353.28 172.50,350.00 C173.33,347.27 174.17,344.21 175.00,343.00 C175.67,342.03 176.33,341.00 177.00,341.00 C177.83,341.00 178.67,343.04 179.50,345.00 C180.33,346.96 181.17,353.08 182.00,356.00 C183.17,360.09 184.33,366.00 185.50,366.00 C186.07,366.00 186.63,359.85 187.20,355.00 C187.80,349.86 188.40,337.88 189.00,332.00 C189.77,324.48 190.53,314.00 191.30,314.00 C192.03,314.00 192.77,316.08 193.50,318.00 C194.33,320.18 195.17,325.92 196.00,330.00 C197.00,334.89 198.00,340.91 199.00,345.00 C200.17,349.77 201.33,354.59 202.50,357.00 C204.00,360.10 205.50,363.50 207.00,363.50 C208.17,363.50 209.33,360.30 210.50,357.00 C211.50,354.17 212.50,345.95 213.50,340.10 C214.57,333.86 215.63,323.74 216.70,320.60 C217.50,318.25 218.30,317.98 219.10,315.80 C219.73,314.07 220.37,309.47 221.00,308.00 C222.33,304.90 223.67,302.00 225.00,302.00 C226.17,302.00 227.33,303.71 228.50,306.00 C228.90,306.79 229.30,309.21 229.70,310.90 C230.80,315.54 231.90,320.29 233.00,325.50 C234.07,330.55 235.13,340.91 236.20,341.80 C237.40,342.80 238.60,342.75 239.80,343.40 C240.60,343.83 241.40,344.17 242.20,345.00 C243.00,345.83 243.80,348.86 244.60,350.70 C245.70,353.22 246.80,357.65 247.90,358.00 C249.53,358.53 251.17,358.38 252.80,358.80 C253.87,359.08 254.93,359.78 256.00,360.50 C257.37,361.43 258.73,363.46 260.10,364.50 C261.73,365.74 263.37,367.01 265.00,367.50 C266.90,368.06 268.80,368.25 270.70,368.60 C273.40,369.10 276.10,370.05 278.80,370.05 C285.87,370.05 292.93,370.05 300.00,370.05 C303.33,370.05 306.67,370.05 310.00,370.05 C311.00,370.05 312.00,369.02 313.00,368.60 C314.00,368.18 315.00,367.50 316.00,367.50 C317.33,367.50 318.67,368.50 320.00,368.50 C321.33,368.50 322.67,366.30 324.00,366.30 C325.33,366.30 326.67,367.50 328.00,367.50 C329.00,367.50 330.00,366.50 331.00,366.50 C332.33,366.50 333.67,368.00 335.00,368.00 C336.33,368.00 337.67,366.30 339.00,366.30 C340.33,366.30 341.67,366.80 343.00,366.80 C343.67,366.80 344.33,366.60 345.00,366.50" stroke="#7a22b0" stroke-width="2" stroke-dasharray="8.5,5"/>
<path d="M125.00,370.05 C129.67,370.05 134.33,370.05 139.00,370.05 C139.50,370.05 140.00,367.37 140.50,366.00 C141.07,364.45 141.63,363.15 142.20,361.30 C143.00,358.69 143.80,352.70 144.60,351.50 C145.70,349.85 146.80,348.60 147.90,348.60 C148.70,348.60 149.50,350.62 150.30,351.50 C151.13,352.41 151.97,354.00 152.80,354.00 C153.87,354.00 154.93,352.42 156.00,351.50 C157.10,350.55 158.20,348.30 159.30,348.30 C159.87,348.30 160.43,348.46 161.00,348.60 C161.50,348.72 162.00,348.79 162.50,349.20 C162.77,349.42 163.03,352.84 163.30,354.00 C164.03,357.20 164.77,358.98 165.50,361.00 C166.40,363.48 167.30,367.50 168.20,367.50 C169.30,367.50 170.40,363.90 171.50,361.30 C172.83,358.15 174.17,351.31 175.50,348.30 C176.50,346.04 177.50,344.04 178.50,343.00 C179.40,342.07 180.30,341.00 181.20,341.00 C182.83,341.00 184.47,342.64 186.10,344.20 C186.83,344.90 187.57,347.50 188.30,347.50 C189.63,347.50 190.97,338.35 192.30,336.10 C193.67,333.79 195.03,331.20 196.40,331.20 C197.73,331.20 199.07,336.19 200.40,337.70 C201.67,339.13 202.93,341.00 204.20,341.00 C205.67,341.00 207.13,336.81 208.60,333.60 C209.57,331.49 210.53,326.90 211.50,325.00 C212.60,322.84 213.70,320.20 214.80,320.20 C215.93,320.20 217.07,326.05 218.20,327.50 C219.50,329.16 220.80,331.00 222.10,331.00 C223.27,331.00 224.43,327.41 225.60,325.60 C226.57,324.10 227.53,321.10 228.50,321.10 C229.50,321.10 230.50,323.52 231.50,325.60 C232.47,327.61 233.43,332.21 234.40,335.40 C235.60,339.36 236.80,345.36 238.00,347.00 C239.10,348.51 240.20,348.67 241.30,349.90 C242.37,351.09 243.43,352.79 244.50,354.80 C245.60,356.87 246.70,360.83 247.80,362.90 C248.87,364.91 249.93,366.79 251.00,367.80 C252.10,368.84 253.20,370.05 254.30,370.05 C269.53,370.05 284.77,370.05 300.00,370.05 C303.67,370.05 307.33,369.50 311.00,369.00 C312.33,368.82 313.67,368.20 315.00,368.20 C316.67,368.20 318.33,368.50 320.00,368.50 C321.67,368.50 323.33,367.50 325.00,367.50 C326.67,367.50 328.33,368.30 330.00,368.30 C331.67,368.30 333.33,367.50 335.00,367.50 C336.67,367.50 338.33,368.00 340.00,368.00 C341.67,368.00 343.33,367.87 345.00,367.80" stroke="#000" stroke-width="2"/>
</g>
<g clip-path="url(#cR1)" fill="none" stroke-linejoin="round" stroke-linecap="butt">
<path d="M363.00,126.05 C407.87,126.05 452.73,126.05 497.60,126.05 C499.23,126.05 500.87,123.76 502.50,122.20 C503.87,120.90 505.23,118.10 506.60,117.30 C507.97,116.50 509.33,115.70 510.70,115.70 C512.30,115.70 513.90,115.70 515.50,115.70 C516.60,115.70 517.70,115.24 518.80,114.80 C519.87,114.37 520.93,113.42 522.00,112.40 C522.83,111.60 523.67,109.20 524.50,109.20 C525.30,109.20 526.10,110.82 526.90,112.40 C527.37,113.32 527.83,117.00 528.30,117.00 C529.37,117.00 530.43,113.91 531.50,112.40 C532.87,110.47 534.23,107.82 535.60,106.70 C537.50,105.14 539.40,104.79 541.30,103.50 C543.47,102.02 545.63,99.68 547.80,97.80 C549.70,96.15 551.60,94.09 553.50,92.90 C555.10,91.90 556.70,90.50 558.30,90.50 C559.67,90.50 561.03,92.26 562.40,92.90 C563.77,93.54 565.13,94.50 566.50,94.50 C567.57,94.50 568.63,89.06 569.70,86.40 C570.80,83.66 571.90,78.30 573.00,78.30 C574.07,78.30 575.13,84.16 576.20,88.00 C577.30,91.96 578.40,98.36 579.50,102.70 C580.47,106.51 581.43,113.00 582.40,113.00 C583.23,113.00 584.07,109.68 584.90,107.50 C585.97,104.71 587.03,97.80 588.10,97.00 C588.77,96.50 589.43,96.10 590.10,96.10 C591.07,96.10 592.03,101.00 593.00,101.00 C593.80,101.00 594.60,97.68 595.40,96.10 C596.23,94.45 597.07,91.87 597.90,91.30 C598.97,90.57 600.03,90.00 601.10,90.00 C602.20,90.00 603.30,91.00 604.40,92.10 C605.47,93.16 606.53,98.44 607.60,99.40 C608.03,99.79 608.47,100.20 608.90,100.20 C609.57,100.20 610.23,93.94 610.90,91.30 C611.70,88.13 612.50,82.80 613.30,82.80 C614.13,82.80 614.97,85.96 615.80,88.80 C616.60,91.52 617.40,98.63 618.20,102.70 C619.03,106.93 619.87,111.44 620.70,114.00 C621.77,117.28 622.83,120.54 623.90,121.30 C626.07,122.85 628.23,123.16 630.40,123.80 C633.60,124.75 636.80,126.05 640.00,126.05 C653.67,126.05 667.33,126.05 681.00,126.05" stroke="#5cd4ca" stroke-width="1.3"/>
<path d="M363.00,126.05 C401.33,126.05 439.67,126.05 478.00,126.05 C479.33,126.05 480.67,124.00 482.00,124.00 C483.33,124.00 484.67,124.33 486.00,124.50 C487.33,124.67 488.67,125.00 490.00,125.00 C491.47,125.00 492.93,125.00 494.40,125.00 C497.10,125.00 499.80,123.05 502.50,121.30 C503.87,120.41 505.23,118.33 506.60,117.30 C507.97,116.27 509.33,114.80 510.70,114.80 C512.30,114.80 513.90,115.70 515.50,115.70 C517.13,115.70 518.77,115.08 520.40,114.00 C521.20,113.47 522.00,109.70 522.80,108.30 C523.37,107.31 523.93,105.90 524.50,105.90 C525.30,105.90 526.10,108.62 526.90,110.80 C527.43,112.26 527.97,115.94 528.50,117.00 C528.97,117.93 529.43,118.90 529.90,118.90 C531.23,118.90 532.57,112.04 533.90,110.80 C535.80,109.03 537.70,108.51 539.60,107.50 C541.23,106.64 542.87,106.44 544.50,105.10 C546.13,103.76 547.77,96.27 549.40,92.90 C550.77,90.08 552.13,87.37 553.50,85.60 C554.57,84.22 555.63,82.30 556.70,82.30 C557.80,82.30 558.90,86.07 560.00,88.00 C561.07,89.87 562.13,93.24 563.20,93.70 C564.30,94.17 565.40,94.50 566.50,94.50 C567.57,94.50 568.63,90.87 569.70,89.60 C570.80,88.29 571.90,86.40 573.00,86.40 C573.80,86.40 574.60,87.19 575.40,88.00 C576.50,89.12 577.60,93.34 578.70,96.10 C579.77,98.77 580.83,101.36 581.90,104.30 C582.43,105.77 582.97,109.00 583.50,109.00 C584.50,109.00 585.50,103.03 586.50,101.00 C587.30,99.37 588.10,97.00 588.90,97.00 C590.00,97.00 591.10,99.40 592.20,99.40 C593.57,99.40 594.93,96.01 596.30,94.50 C597.90,92.73 599.50,90.39 601.10,89.60 C602.73,88.79 604.37,88.00 606.00,88.00 C607.37,88.00 608.73,88.00 610.10,88.00 C611.17,88.00 612.23,89.24 613.30,90.50 C614.13,91.48 614.97,93.83 615.80,96.10 C616.87,99.01 617.93,104.04 619.00,107.50 C620.10,111.06 621.20,115.37 622.30,117.30 C623.63,119.64 624.97,121.57 626.30,122.20 C628.20,123.10 630.10,123.41 632.00,123.80 C633.63,124.13 635.27,124.32 636.90,124.60 C639.60,125.06 642.30,126.05 645.00,126.05 C657.00,126.05 669.00,126.05 681.00,126.05" stroke="#7a22b0" stroke-width="2" stroke-dasharray="8.5,5"/>
<path d="M363.00,126.05 C400.83,126.05 438.67,126.05 476.50,126.05 C477.30,126.05 478.10,115.85 478.90,110.80 C479.63,106.17 480.37,100.28 481.10,97.00 C481.63,94.61 482.17,91.30 482.70,91.30 C483.60,91.30 484.50,97.00 485.40,97.00 C486.23,97.00 487.07,92.90 487.90,92.90 C488.33,92.90 488.77,93.23 489.20,93.70 C489.83,94.38 490.47,102.78 491.10,107.50 C491.67,111.72 492.23,117.81 492.80,120.50 C493.33,123.04 493.87,126.05 494.40,126.05 C502.53,126.05 510.67,126.05 518.80,126.05 C519.33,126.05 519.87,124.12 520.40,122.20 C520.93,120.28 521.47,115.48 522.00,110.80 C522.57,105.83 523.13,97.41 523.70,91.30 C524.23,85.55 524.77,77.40 525.30,75.00 C525.77,72.90 526.23,70.90 526.70,70.90 C527.23,70.90 527.77,74.87 528.30,77.00 C528.70,78.60 529.10,80.59 529.50,82.00 C530.17,84.36 530.83,87.26 531.50,88.00 C532.30,88.89 533.10,88.62 533.90,89.60 C534.47,90.29 535.03,95.09 535.60,97.80 C536.40,101.63 537.20,106.57 538.00,109.20 C539.10,112.82 540.20,115.72 541.30,117.30 C542.63,119.22 543.97,120.62 545.30,121.30 C546.13,121.73 546.97,122.20 547.80,122.20 C548.87,122.20 549.93,119.83 551.00,118.10 C552.10,116.32 553.20,113.63 554.30,110.80 C555.37,108.06 556.43,103.36 557.50,101.00 C558.60,98.57 559.70,96.94 560.80,95.30 C561.60,94.10 562.40,92.10 563.20,92.10 C564.03,92.10 564.87,93.95 565.70,95.30 C566.33,96.33 566.97,99.40 567.60,99.40 C568.30,99.40 569.00,96.87 569.70,94.50 C570.53,91.68 571.37,82.03 572.20,78.30 C573.17,73.97 574.13,68.50 575.10,68.50 C576.00,68.50 576.90,71.82 577.80,75.00 C578.63,77.95 579.47,85.67 580.30,91.30 C581.00,96.03 581.70,102.48 582.40,106.00 C583.23,110.20 584.07,115.70 584.90,115.70 C585.70,115.70 586.50,107.13 587.30,104.30 C588.23,101.00 589.17,96.50 590.10,96.50 C591.07,96.50 592.03,98.13 593.00,99.40 C594.10,100.85 595.20,105.90 596.30,105.90 C597.37,105.90 598.43,101.93 599.50,100.20 C600.60,98.42 601.70,96.87 602.80,95.30 C603.87,93.78 604.93,90.90 606.00,90.90 C606.83,90.90 607.67,92.90 608.50,92.90 C609.57,92.90 610.63,92.10 611.70,92.10 C612.50,92.10 613.30,96.48 614.10,99.40 C614.93,102.44 615.77,107.57 616.60,110.80 C617.40,113.90 618.20,117.41 619.00,118.90 C620.10,120.95 621.20,122.07 622.30,123.00 C623.93,124.38 625.57,126.05 627.20,126.05 C645.13,126.05 663.07,126.05 681.00,126.05" stroke="#000" stroke-width="2"/>
</g>
<g clip-path="url(#cR2)" fill="none" stroke-linejoin="round" stroke-linecap="butt">
<path d="M363.00,187.05 C398.00,187.05 433.00,187.05 468.00,187.05 C469.67,187.05 471.33,183.30 473.00,183.30 C475.33,183.30 477.67,184.00 480.00,184.00 C481.67,184.00 483.33,181.97 485.00,181.00 C486.60,180.07 488.20,178.97 489.80,178.30 C491.40,177.63 493.00,176.70 494.60,176.70 C495.97,176.70 497.33,176.70 498.70,176.70 C499.80,176.70 500.90,179.90 502.00,179.90 C502.80,179.90 503.60,178.76 504.40,177.50 C505.20,176.24 506.00,170.78 506.80,168.50 C507.37,166.88 507.93,164.50 508.50,164.50 C509.57,164.50 510.63,167.34 511.70,167.70 C513.07,168.16 514.43,168.10 515.80,168.50 C516.87,168.81 517.93,170.20 519.00,170.20 C519.83,170.20 520.67,166.71 521.50,165.30 C522.30,163.94 523.10,161.70 523.90,161.70 C524.70,161.70 525.50,164.22 526.30,165.30 C527.40,166.78 528.50,168.80 529.60,169.30 C530.67,169.79 531.73,170.20 532.80,170.20 C533.90,170.20 535.00,169.30 536.10,169.30 C536.83,169.30 537.57,174.65 538.30,175.00 C539.37,175.51 540.43,175.52 541.50,175.80 C542.60,176.09 543.70,176.70 544.80,176.70 C545.87,176.70 546.93,173.40 548.00,173.40 C549.10,173.40 550.20,175.00 551.30,175.00 C552.37,175.00 553.43,173.45 554.50,171.80 C555.60,170.10 556.70,163.42 557.80,160.40 C558.87,157.47 559.93,154.14 561.00,153.10 C561.83,152.29 562.67,151.50 563.50,151.50 C564.03,151.50 564.57,155.50 565.10,155.50 C565.90,155.50 566.70,152.74 567.50,150.60 C568.33,148.38 569.17,143.35 570.00,140.90 C570.80,138.55 571.60,135.20 572.40,135.20 C573.20,135.20 574.00,138.91 574.80,140.90 C575.63,142.97 576.47,145.78 577.30,147.40 C578.37,149.48 579.43,150.46 580.50,152.30 C581.60,154.19 582.70,158.20 583.80,158.80 C584.60,159.24 585.40,159.60 586.20,159.60 C587.30,159.60 588.40,157.76 589.50,157.10 C590.57,156.46 591.63,156.15 592.70,155.50 C593.40,155.07 594.10,154.54 594.80,153.90 C596.13,152.68 597.47,149.00 598.80,149.00 C599.90,149.00 601.00,151.49 602.10,153.10 C603.17,154.66 604.23,157.26 605.30,158.80 C606.67,160.77 608.03,162.08 609.40,163.70 C610.77,165.32 612.13,166.86 613.50,168.50 C614.83,170.10 616.17,172.19 617.50,173.40 C618.60,174.40 619.70,175.03 620.80,175.80 C622.43,176.95 624.07,178.37 625.70,179.10 C627.30,179.81 628.90,180.06 630.50,180.70 C632.13,181.36 633.77,182.46 635.40,183.20 C638.60,184.66 641.80,187.05 645.00,187.05 C657.00,187.05 669.00,187.05 681.00,187.05" stroke="#5cd4ca" stroke-width="1.3"/>
<path d="M363.00,187.05 C397.23,187.05 431.47,187.05 465.70,187.05 C466.93,187.05 468.17,182.00 469.40,182.00 C470.63,182.00 471.87,184.50 473.10,184.50 C474.33,184.50 475.57,182.00 476.80,182.00 C478.47,182.00 480.13,183.30 481.80,183.30 C483.43,183.30 485.07,178.94 486.70,178.30 C487.73,177.89 488.77,177.68 489.80,177.50 C491.13,177.27 492.47,177.14 493.80,177.00 C494.90,176.88 496.00,176.70 497.10,176.70 C497.90,176.70 498.70,177.67 499.50,178.30 C500.33,178.95 501.17,180.70 502.00,180.70 C502.80,180.70 503.60,177.13 504.40,175.00 C505.20,172.87 506.00,168.40 506.80,167.70 C507.90,166.74 509.00,166.41 510.10,166.10 C510.90,165.87 511.70,165.60 512.50,165.60 C513.87,165.60 515.23,166.85 516.60,167.70 C517.67,168.37 518.73,170.20 519.80,170.20 C520.90,170.20 522.00,164.60 523.10,163.70 C523.63,163.26 524.17,162.80 524.70,162.80 C525.80,162.80 526.90,167.73 528.00,168.50 C529.33,169.43 530.67,169.79 532.00,170.20 C533.10,170.54 534.20,170.57 535.30,171.00 C536.57,171.49 537.83,175.00 539.10,175.00 C540.17,175.00 541.23,173.40 542.30,173.40 C543.40,173.40 544.50,175.00 545.60,175.00 C546.67,175.00 547.73,172.22 548.80,171.80 C549.90,171.37 551.00,171.00 552.10,171.00 C553.17,171.00 554.23,171.00 555.30,171.00 C556.13,171.00 556.97,168.41 557.80,166.90 C558.87,164.97 559.93,162.53 561.00,160.40 C562.10,158.20 563.20,156.34 564.30,153.90 C565.37,151.54 566.43,148.86 567.50,145.80 C568.33,143.41 569.17,140.45 570.00,137.60 C570.53,135.77 571.07,131.90 571.60,131.90 C572.40,131.90 573.20,135.40 574.00,137.60 C574.83,139.89 575.67,144.06 576.50,145.80 C577.57,148.03 578.63,148.93 579.70,150.60 C580.80,152.32 581.90,154.39 583.00,156.00 C584.00,157.47 585.00,160.00 586.00,160.00 C587.03,160.00 588.07,157.51 589.10,157.10 C590.17,156.68 591.23,156.70 592.30,156.30 C593.67,155.79 595.03,153.10 596.40,153.10 C597.47,153.10 598.53,155.66 599.60,156.30 C600.97,157.12 602.33,158.00 603.70,158.00 C605.07,158.00 606.43,154.70 607.80,154.70 C608.60,154.70 609.40,156.48 610.20,158.00 C611.00,159.52 611.80,164.09 612.60,165.30 C613.70,166.96 614.80,167.40 615.90,168.50 C616.97,169.57 618.03,170.36 619.10,171.80 C620.20,173.29 621.30,177.65 622.40,178.30 C624.03,179.26 625.67,179.54 627.30,179.90 C628.93,180.26 630.57,180.70 632.20,180.70 C633.80,180.70 635.40,180.70 637.00,180.70 C638.37,180.70 639.73,182.27 641.10,183.20 C642.73,184.32 644.37,187.05 646.00,187.05 C657.67,187.05 669.33,187.05 681.00,187.05" stroke="#7a22b0" stroke-width="2" stroke-dasharray="8.5,5"/>
<path d="M363.00,187.05 C406.33,187.05 449.67,187.05 493.00,187.05 C493.53,187.05 494.07,177.70 494.60,173.40 C495.17,168.83 495.73,162.51 496.30,160.40 C496.73,158.78 497.17,157.10 497.60,157.10 C498.23,157.10 498.87,160.19 499.50,162.00 C499.93,163.24 500.37,166.10 500.80,166.10 C501.47,166.10 502.13,163.98 502.80,162.00 C503.33,160.42 503.87,155.07 504.40,153.90 C504.77,153.10 505.13,152.30 505.50,152.30 C505.93,152.30 506.37,157.29 506.80,160.40 C507.37,164.46 507.93,171.16 508.50,175.00 C509.03,178.62 509.57,182.85 510.10,184.00 C510.90,185.73 511.70,187.05 512.50,187.05 C514.33,187.05 516.17,187.05 518.00,187.05 C519.00,187.05 520.00,185.12 521.00,184.50 C521.67,184.09 522.33,183.50 523.00,183.50 C523.67,183.50 524.33,185.85 525.00,186.00 C528.70,186.81 532.40,187.05 536.10,187.05 C536.63,187.05 537.17,181.48 537.70,178.30 C538.43,173.92 539.17,169.25 539.90,163.70 C540.70,157.65 541.50,147.56 542.30,142.50 C542.83,139.13 543.37,135.90 543.90,134.40 C544.47,132.80 545.03,131.10 545.60,131.10 C546.13,131.10 546.67,134.40 547.20,134.40 C547.73,134.40 548.27,132.77 548.80,131.10 C549.20,129.85 549.60,125.18 550.00,124.00 C550.33,123.02 550.67,122.00 551.00,122.00 C551.37,122.00 551.73,123.19 552.10,125.00 C552.37,126.31 552.63,134.87 552.90,139.30 C553.43,148.16 553.97,158.05 554.50,163.70 C555.03,169.35 555.57,174.52 556.10,176.70 C556.93,180.11 557.77,182.35 558.60,183.20 C559.93,184.57 561.27,185.60 562.60,185.60 C564.23,185.60 565.87,185.33 567.50,184.80 C568.33,184.53 569.17,182.60 570.00,180.70 C570.80,178.88 571.60,175.98 572.40,171.80 C572.93,169.01 573.47,161.58 574.00,158.80 C574.57,155.84 575.13,152.76 575.70,152.30 C575.97,152.08 576.23,151.90 576.50,151.90 C577.03,151.90 577.57,158.00 578.10,158.00 C578.63,158.00 579.17,156.53 579.70,155.50 C580.23,154.47 580.77,151.50 581.30,151.50 C581.87,151.50 582.43,155.00 583.00,157.10 C583.47,158.83 583.93,160.94 584.40,163.00 C584.87,165.06 585.33,169.50 585.80,169.50 C586.20,169.50 586.60,162.19 587.00,156.00 C587.27,151.88 587.53,142.48 587.80,137.60 C588.10,132.11 588.40,126.19 588.70,124.00 C589.13,120.83 589.57,118.00 590.00,118.00 C592.33,118.00 594.67,118.00 597.00,118.00 C597.60,118.00 598.20,120.86 598.80,124.00 C599.33,126.79 599.87,136.10 600.40,142.50 C600.97,149.30 601.53,158.60 602.10,163.70 C602.63,168.50 603.17,172.85 603.70,175.00 C604.50,178.23 605.30,180.33 606.10,181.50 C606.93,182.72 607.77,184.00 608.60,184.00 C609.40,184.00 610.20,181.79 611.00,179.90 C611.83,177.93 612.67,173.92 613.50,170.20 C614.03,167.82 614.57,164.04 615.10,162.00 C615.63,159.96 616.17,157.10 616.70,157.10 C617.50,157.10 618.30,162.00 619.10,162.00 C619.93,162.00 620.77,160.48 621.60,159.60 C622.40,158.76 623.20,156.80 624.00,156.80 C624.57,156.80 625.13,160.77 625.70,163.70 C626.23,166.46 626.77,172.25 627.30,175.00 C627.83,177.75 628.37,180.58 628.90,181.50 C630.00,183.40 631.10,184.27 632.20,184.80 C634.80,186.06 637.40,187.05 640.00,187.05 C653.67,187.05 667.33,187.05 681.00,187.05" stroke="#000" stroke-width="2"/>
</g>
<g clip-path="url(#cR3)" fill="none" stroke-linejoin="round" stroke-linecap="butt">
<path d="M363.00,248.05 C398.00,248.05 433.00,248.05 468.00,248.05 C469.33,248.05 470.67,243.33 472.00,243.20 C473.33,243.07 474.67,243.10 476.00,243.00 C477.33,242.90 478.67,242.70 480.00,242.50 C481.37,242.29 482.73,242.16 484.10,241.70 C485.17,241.34 486.23,239.42 487.30,238.50 C488.40,237.55 489.50,236.00 490.60,236.00 C491.67,236.00 492.73,238.10 493.80,238.50 C494.90,238.91 496.00,238.87 497.10,239.30 C498.17,239.72 499.23,242.50 500.30,242.50 C501.40,242.50 502.50,241.97 503.60,241.70 C504.67,241.44 505.73,241.16 506.80,240.90 C507.90,240.63 509.00,240.34 510.10,240.10 C511.43,239.81 512.77,239.68 514.10,239.30 C515.20,238.98 516.30,237.70 517.40,237.70 C518.50,237.70 519.60,238.50 520.70,238.50 C521.77,238.50 522.83,236.00 523.90,236.00 C525.00,236.00 526.10,236.00 527.20,236.00 C528.27,236.00 529.33,236.80 530.40,236.80 C531.50,236.80 532.60,236.36 533.70,236.00 C534.77,235.65 535.83,235.29 536.90,234.40 C537.37,234.01 537.83,232.00 538.30,232.00 C539.63,232.00 540.97,232.80 542.30,232.80 C543.40,232.80 544.50,231.25 545.60,230.30 C546.67,229.38 547.73,228.00 548.80,227.10 C549.90,226.17 551.00,225.37 552.10,224.70 C553.17,224.05 554.23,223.00 555.30,223.00 C556.40,223.00 557.50,226.24 558.60,227.90 C559.67,229.51 560.73,232.80 561.80,232.80 C562.90,232.80 564.00,231.08 565.10,229.50 C566.17,227.97 567.23,225.23 568.30,221.40 C569.13,218.41 569.97,208.77 570.80,206.80 C571.33,205.54 571.87,204.30 572.40,204.30 C573.20,204.30 574.00,210.52 574.80,213.30 C575.63,216.20 576.47,220.36 577.30,221.40 C578.37,222.73 579.43,223.37 580.50,223.80 C581.60,224.24 582.70,224.31 583.80,224.70 C584.87,225.08 585.93,226.30 587.00,226.30 C588.00,226.30 589.00,224.27 590.00,222.00 C590.80,220.18 591.60,213.50 592.40,210.00 C593.23,206.36 594.07,202.52 594.90,200.30 C595.70,198.16 596.50,195.40 597.30,195.40 C598.13,195.40 598.97,201.12 599.80,203.50 C600.87,206.55 601.93,210.68 603.00,211.60 C604.10,212.54 605.20,212.45 606.30,213.30 C607.37,214.12 608.43,216.27 609.50,218.10 C610.60,219.98 611.70,223.24 612.80,224.70 C613.87,226.12 614.93,226.63 616.00,227.90 C617.10,229.21 618.20,231.71 619.30,232.80 C620.37,233.86 621.43,235.20 622.50,235.20 C623.87,235.20 625.23,234.88 626.60,234.40 C627.97,233.92 629.33,227.10 630.70,227.10 C631.77,227.10 632.83,229.50 633.90,229.50 C635.00,229.50 636.10,227.90 637.20,227.90 C638.27,227.90 639.33,231.19 640.40,232.80 C641.50,234.46 642.60,236.06 643.70,237.70 C644.77,239.29 645.83,241.02 646.90,242.50 C647.93,243.93 648.97,245.96 650.00,246.50 C651.67,247.38 653.33,248.05 655.00,248.05 C663.67,248.05 672.33,248.05 681.00,248.05" stroke="#5cd4ca" stroke-width="1.3"/>
<path d="M363.00,248.05 C397.23,248.05 431.47,248.05 465.70,248.05 C466.93,248.05 468.17,241.20 469.40,241.20 C470.63,241.20 471.87,243.70 473.10,243.70 C474.33,243.70 475.57,240.70 476.80,240.70 C478.03,240.70 479.27,242.40 480.50,242.40 C481.43,242.40 482.37,242.07 483.30,241.70 C484.37,241.28 485.43,239.86 486.50,238.50 C487.30,237.48 488.10,236.03 488.90,234.40 C489.30,233.58 489.70,231.50 490.10,231.50 C490.80,231.50 491.50,232.82 492.20,233.60 C493.27,234.79 494.33,236.52 495.40,237.70 C496.50,238.92 497.60,239.82 498.70,240.90 C499.80,241.98 500.90,244.20 502.00,244.20 C503.07,244.20 504.13,242.04 505.20,241.70 C506.57,241.26 507.93,241.29 509.30,240.90 C510.37,240.60 511.43,240.01 512.50,239.30 C513.60,238.57 514.70,236.00 515.80,236.00 C516.87,236.00 517.93,239.30 519.00,239.30 C520.10,239.30 521.20,237.10 522.30,236.00 C523.37,234.93 524.43,233.98 525.50,232.80 C526.60,231.58 527.70,228.70 528.80,228.70 C529.87,228.70 530.93,234.40 532.00,234.40 C533.10,234.40 534.20,233.36 535.30,232.80 C536.30,232.29 537.30,231.20 538.30,231.20 C539.63,231.20 540.97,233.60 542.30,233.60 C543.40,233.60 544.50,232.29 545.60,231.20 C546.67,230.15 547.73,227.09 548.80,226.30 C549.90,225.49 551.00,224.70 552.10,224.70 C553.17,224.70 554.23,226.15 555.30,226.60 C556.67,227.17 558.03,227.90 559.40,227.90 C560.77,227.90 562.13,227.49 563.50,227.10 C564.57,226.80 565.63,226.37 566.70,225.50 C567.80,224.60 568.90,221.28 570.00,218.10 C570.70,216.08 571.40,210.00 572.10,210.00 C573.00,210.00 573.90,213.86 574.80,215.70 C575.90,217.94 577.00,220.71 578.10,222.20 C579.17,223.64 580.23,225.14 581.30,225.50 C582.67,225.96 584.03,226.30 585.40,226.30 C586.50,226.30 587.60,226.10 588.70,225.50 C589.13,225.26 589.57,217.17 590.00,215.00 C590.80,211.00 591.60,208.80 592.40,206.80 C593.23,204.72 594.07,201.90 594.90,201.90 C595.70,201.90 596.50,206.04 597.30,208.40 C598.13,210.86 598.97,216.10 599.80,216.50 C600.87,217.01 601.93,217.30 603.00,217.30 C604.10,217.30 605.20,211.10 606.30,210.00 C607.10,209.20 607.90,208.40 608.70,208.40 C609.50,208.40 610.30,213.60 611.10,216.50 C611.93,219.52 612.77,225.22 613.60,226.30 C614.67,227.68 615.73,227.59 616.80,228.70 C617.90,229.85 619.00,233.55 620.10,234.40 C621.17,235.22 622.23,236.00 623.30,236.00 C624.40,236.00 625.50,235.68 626.60,235.20 C627.67,234.73 628.73,228.37 629.80,227.90 C630.90,227.42 632.00,227.46 633.10,227.10 C634.17,226.75 635.23,225.50 636.30,225.50 C637.13,225.50 637.97,231.10 638.80,232.80 C639.87,234.97 640.93,237.02 642.00,237.70 C643.37,238.57 644.73,238.43 646.10,239.30 C647.17,239.98 648.23,242.87 649.30,244.20 C650.53,245.74 651.77,248.05 653.00,248.05 C662.33,248.05 671.67,248.05 681.00,248.05" stroke="#7a22b0" stroke-width="2" stroke-dasharray="8.5,5"/>
<path d="M363.00,248.05 C406.07,248.05 449.13,248.05 492.20,248.05 C493.57,248.05 494.93,245.00 496.30,245.00 C497.37,245.00 498.43,248.05 499.50,248.05 C500.60,248.05 501.70,246.90 502.80,245.80 C503.60,245.00 504.40,243.75 505.20,241.70 C506.00,239.65 506.80,233.82 507.60,229.50 C508.17,226.44 508.73,222.07 509.30,219.80 C509.73,218.06 510.17,215.70 510.60,215.70 C511.23,215.70 511.87,216.80 512.50,218.10 C513.17,219.47 513.83,227.18 514.50,229.50 C515.03,231.36 515.57,233.60 516.10,233.60 C516.63,233.60 517.17,230.30 517.70,227.90 C518.23,225.50 518.77,218.81 519.30,218.10 C519.63,217.65 519.97,217.30 520.30,217.30 C520.87,217.30 521.43,220.54 522.00,223.00 C522.53,225.32 523.07,229.57 523.60,232.80 C524.23,236.64 524.87,242.60 525.50,244.20 C526.33,246.30 527.17,248.05 528.00,248.05 C531.97,248.05 535.93,248.05 539.90,248.05 C540.97,248.05 542.03,245.00 543.10,245.00 C544.20,245.00 545.30,245.80 546.40,245.80 C547.47,245.80 548.53,245.12 549.60,244.20 C550.43,243.48 551.27,241.51 552.10,237.70 C552.63,235.26 553.17,223.27 553.70,216.50 C554.23,209.73 554.77,201.35 555.30,197.00 C555.73,193.47 556.17,188.90 556.60,188.90 C557.27,188.90 557.93,193.21 558.60,197.00 C559.13,200.04 559.67,207.33 560.20,211.60 C560.73,215.87 561.27,223.00 561.80,223.00 C562.37,223.00 562.93,217.72 563.50,213.30 C564.03,209.14 564.57,196.75 565.10,193.80 C565.47,191.77 565.83,189.70 566.20,189.70 C566.63,189.70 567.07,195.97 567.50,200.30 C568.03,205.63 568.57,216.33 569.10,221.40 C569.77,227.73 570.43,233.21 571.10,236.00 C572.07,240.05 573.03,243.23 574.00,244.20 C575.37,245.58 576.73,246.60 578.10,246.60 C579.17,246.60 580.23,246.36 581.30,245.80 C581.87,245.50 582.43,241.11 583.00,237.70 C583.53,234.49 584.07,228.05 584.60,224.70 C585.13,221.35 585.67,218.03 586.20,216.50 C586.73,214.97 587.27,213.30 587.80,213.30 C588.37,213.30 588.93,217.60 589.50,221.40 C589.87,223.86 590.23,232.80 590.60,232.80 C591.13,232.80 591.67,228.12 592.20,226.30 C592.57,225.05 592.93,224.44 593.30,223.00 C593.83,220.90 594.37,214.83 594.90,213.30 C595.33,212.06 595.77,210.80 596.20,210.80 C596.73,210.80 597.27,216.50 597.80,216.50 C598.33,216.50 598.87,212.28 599.40,208.40 C599.97,204.27 600.53,190.46 601.10,186.00 C601.57,182.33 602.03,178.00 602.50,178.00 C603.00,178.00 603.50,182.99 604.00,186.00 C604.67,190.01 605.33,197.07 606.00,200.00 C606.90,203.95 607.80,208.40 608.70,208.40 C609.30,208.40 609.90,202.32 610.50,198.00 C610.93,194.88 611.37,189.35 611.80,186.00 C612.20,182.91 612.60,178.00 613.00,178.00 C613.50,178.00 614.00,182.00 614.50,186.00 C615.00,190.00 615.50,201.50 616.00,210.00 C616.33,215.67 616.67,224.36 617.00,228.00 C617.50,233.46 618.00,237.74 618.50,239.30 C619.57,242.62 620.63,245.00 621.70,245.00 C622.80,245.00 623.90,244.34 625.00,243.30 C625.80,242.55 626.60,238.09 627.40,234.40 C628.20,230.71 629.00,223.02 629.80,219.80 C630.23,218.05 630.67,215.70 631.10,215.70 C631.60,215.70 632.10,220.29 632.60,223.00 C633.30,226.79 634.00,236.00 634.70,236.00 C635.53,236.00 636.37,228.36 637.20,224.70 C637.90,221.62 638.60,215.70 639.30,215.70 C639.93,215.70 640.57,218.59 641.20,221.40 C641.73,223.77 642.27,231.51 642.80,234.40 C643.63,238.92 644.47,242.63 645.30,244.20 C646.37,246.21 647.43,248.05 648.50,248.05 C659.33,248.05 670.17,248.05 681.00,248.05" stroke="#000" stroke-width="2"/>
</g>
<g clip-path="url(#cR4)" fill="none" stroke-linejoin="round" stroke-linecap="butt">
<path d="M363.00,309.05 C398.00,309.05 433.00,309.05 468.00,309.05 C469.67,309.05 471.33,305.30 473.00,305.30 C475.33,305.30 477.67,306.00 480.00,306.00 C481.67,306.00 483.33,303.97 485.00,303.00 C486.60,302.07 488.20,300.97 489.80,300.30 C491.40,299.63 493.00,298.70 494.60,298.70 C495.97,298.70 497.33,298.70 498.70,298.70 C499.80,298.70 500.90,301.90 502.00,301.90 C502.80,301.90 503.60,300.76 504.40,299.50 C505.20,298.24 506.00,292.78 506.80,290.50 C507.37,288.88 507.93,286.50 508.50,286.50 C509.57,286.50 510.63,289.34 511.70,289.70 C513.07,290.16 514.43,290.10 515.80,290.50 C516.87,290.81 517.93,292.20 519.00,292.20 C519.83,292.20 520.67,288.71 521.50,287.30 C522.30,285.94 523.10,283.70 523.90,283.70 C524.70,283.70 525.50,286.22 526.30,287.30 C527.40,288.78 528.50,290.80 529.60,291.30 C530.67,291.79 531.73,292.20 532.80,292.20 C533.90,292.20 535.00,291.30 536.10,291.30 C536.83,291.30 537.57,296.65 538.30,297.00 C539.37,297.51 540.43,297.52 541.50,297.80 C542.60,298.09 543.70,298.70 544.80,298.70 C545.87,298.70 546.93,295.40 548.00,295.40 C549.10,295.40 550.20,297.00 551.30,297.00 C552.37,297.00 553.43,295.45 554.50,293.80 C555.60,292.10 556.70,285.42 557.80,282.40 C558.87,279.47 559.93,276.14 561.00,275.10 C561.83,274.29 562.67,273.50 563.50,273.50 C564.03,273.50 564.57,277.50 565.10,277.50 C565.90,277.50 566.70,274.74 567.50,272.60 C568.33,270.38 569.17,265.35 570.00,262.90 C570.80,260.55 571.60,257.20 572.40,257.20 C573.20,257.20 574.00,260.91 574.80,262.90 C575.63,264.97 576.47,267.78 577.30,269.40 C578.37,271.48 579.43,272.46 580.50,274.30 C581.60,276.19 582.70,280.20 583.80,280.80 C584.60,281.24 585.40,281.60 586.20,281.60 C587.30,281.60 588.40,279.76 589.50,279.10 C590.57,278.46 591.63,278.15 592.70,277.50 C593.40,277.07 594.10,276.54 594.80,275.90 C596.13,274.68 597.47,271.00 598.80,271.00 C599.90,271.00 601.00,273.49 602.10,275.10 C603.17,276.66 604.23,279.26 605.30,280.80 C606.67,282.77 608.03,284.08 609.40,285.70 C610.77,287.32 612.13,288.86 613.50,290.50 C614.83,292.10 616.17,294.19 617.50,295.40 C618.60,296.40 619.70,297.03 620.80,297.80 C622.43,298.95 624.07,300.37 625.70,301.10 C627.30,301.81 628.90,302.06 630.50,302.70 C632.13,303.36 633.77,304.46 635.40,305.20 C638.60,306.66 641.80,309.05 645.00,309.05 C657.00,309.05 669.00,309.05 681.00,309.05" stroke="#5cd4ca" stroke-width="1.3"/>
<path d="M363.00,309.05 C397.23,309.05 431.47,309.05 465.70,309.05 C466.93,309.05 468.17,304.00 469.40,304.00 C470.63,304.00 471.87,306.50 473.10,306.50 C474.33,306.50 475.57,304.00 476.80,304.00 C478.47,304.00 480.13,305.30 481.80,305.30 C483.43,305.30 485.07,300.94 486.70,300.30 C487.73,299.89 488.77,299.68 489.80,299.50 C491.13,299.27 492.47,299.14 493.80,299.00 C494.90,298.88 496.00,298.70 497.10,298.70 C497.90,298.70 498.70,299.67 499.50,300.30 C500.33,300.95 501.17,302.70 502.00,302.70 C502.80,302.70 503.60,299.13 504.40,297.00 C505.20,294.87 506.00,290.40 506.80,289.70 C507.90,288.74 509.00,288.41 510.10,288.10 C510.90,287.87 511.70,287.60 512.50,287.60 C513.87,287.60 515.23,288.85 516.60,289.70 C517.67,290.37 518.73,292.20 519.80,292.20 C520.90,292.20 522.00,286.60 523.10,285.70 C523.63,285.26 524.17,284.80 524.70,284.80 C525.80,284.80 526.90,289.73 528.00,290.50 C529.33,291.43 530.67,291.79 532.00,292.20 C533.10,292.54 534.20,292.57 535.30,293.00 C536.57,293.49 537.83,297.00 539.10,297.00 C540.17,297.00 541.23,295.40 542.30,295.40 C543.40,295.40 544.50,297.00 545.60,297.00 C546.67,297.00 547.73,294.22 548.80,293.80 C549.90,293.37 551.00,293.00 552.10,293.00 C553.17,293.00 554.23,293.00 555.30,293.00 C556.13,293.00 556.97,290.41 557.80,288.90 C558.87,286.97 559.93,284.53 561.00,282.40 C562.10,280.20 563.20,278.34 564.30,275.90 C565.37,273.54 566.43,270.86 567.50,267.80 C568.33,265.41 569.17,262.45 570.00,259.60 C570.53,257.77 571.07,253.90 571.60,253.90 C572.40,253.90 573.20,257.40 574.00,259.60 C574.83,261.89 575.67,266.06 576.50,267.80 C577.57,270.03 578.63,270.93 579.70,272.60 C580.80,274.32 581.90,276.39 583.00,278.00 C584.00,279.47 585.00,282.00 586.00,282.00 C587.03,282.00 588.07,279.51 589.10,279.10 C590.17,278.68 591.23,278.70 592.30,278.30 C593.67,277.79 595.03,275.10 596.40,275.10 C597.47,275.10 598.53,277.66 599.60,278.30 C600.97,279.12 602.33,280.00 603.70,280.00 C605.07,280.00 606.43,276.70 607.80,276.70 C608.60,276.70 609.40,278.48 610.20,280.00 C611.00,281.52 611.80,286.09 612.60,287.30 C613.70,288.96 614.80,289.40 615.90,290.50 C616.97,291.57 618.03,292.36 619.10,293.80 C620.20,295.29 621.30,299.65 622.40,300.30 C624.03,301.26 625.67,301.54 627.30,301.90 C628.93,302.26 630.57,302.70 632.20,302.70 C633.80,302.70 635.40,302.70 637.00,302.70 C638.37,302.70 639.73,304.27 641.10,305.20 C642.73,306.32 644.37,309.05 646.00,309.05 C657.67,309.05 669.33,309.05 681.00,309.05" stroke="#7a22b0" stroke-width="2" stroke-dasharray="8.5,5"/>
<path d="M363.00,309.05 C406.33,309.05 449.67,309.05 493.00,309.05 C493.53,309.05 494.07,299.70 494.60,295.40 C495.17,290.83 495.73,284.51 496.30,282.40 C496.73,280.78 497.17,279.10 497.60,279.10 C498.23,279.10 498.87,282.19 499.50,284.00 C499.93,285.24 500.37,288.10 500.80,288.10 C501.47,288.10 502.13,285.98 502.80,284.00 C503.33,282.42 503.87,277.07 504.40,275.90 C504.77,275.10 505.13,274.30 505.50,274.30 C505.93,274.30 506.37,279.29 506.80,282.40 C507.37,286.46 507.93,293.16 508.50,297.00 C509.03,300.62 509.57,304.85 510.10,306.00 C510.90,307.73 511.70,309.05 512.50,309.05 C514.33,309.05 516.17,309.05 518.00,309.05 C519.00,309.05 520.00,307.12 521.00,306.50 C521.67,306.09 522.33,305.50 523.00,305.50 C523.67,305.50 524.33,307.85 525.00,308.00 C528.70,308.81 532.40,309.05 536.10,309.05 C536.63,309.05 537.17,303.48 537.70,300.30 C538.43,295.92 539.17,291.25 539.90,285.70 C540.70,279.65 541.50,269.56 542.30,264.50 C542.83,261.13 543.37,257.90 543.90,256.40 C544.47,254.80 545.03,253.10 545.60,253.10 C546.13,253.10 546.67,256.40 547.20,256.40 C547.73,256.40 548.27,254.77 548.80,253.10 C549.20,251.85 549.60,247.18 550.00,246.00 C550.33,245.02 550.67,244.00 551.00,244.00 C551.37,244.00 551.73,245.19 552.10,247.00 C552.37,248.31 552.63,256.87 552.90,261.30 C553.43,270.16 553.97,280.05 554.50,285.70 C555.03,291.35 555.57,296.52 556.10,298.70 C556.93,302.11 557.77,304.35 558.60,305.20 C559.93,306.57 561.27,307.60 562.60,307.60 C564.23,307.60 565.87,307.33 567.50,306.80 C568.33,306.53 569.17,304.60 570.00,302.70 C570.80,300.88 571.60,297.98 572.40,293.80 C572.93,291.01 573.47,283.58 574.00,280.80 C574.57,277.84 575.13,274.76 575.70,274.30 C575.97,274.08 576.23,273.90 576.50,273.90 C577.03,273.90 577.57,280.00 578.10,280.00 C578.63,280.00 579.17,278.53 579.70,277.50 C580.23,276.47 580.77,273.50 581.30,273.50 C581.87,273.50 582.43,277.00 583.00,279.10 C583.47,280.83 583.93,282.94 584.40,285.00 C584.87,287.06 585.33,291.50 585.80,291.50 C586.20,291.50 586.60,284.19 587.00,278.00 C587.27,273.88 587.53,264.48 587.80,259.60 C588.10,254.11 588.40,248.19 588.70,246.00 C589.13,242.83 589.57,240.00 590.00,240.00 C592.33,240.00 594.67,240.00 597.00,240.00 C597.60,240.00 598.20,242.86 598.80,246.00 C599.33,248.79 599.87,258.10 600.40,264.50 C600.97,271.30 601.53,280.60 602.10,285.70 C602.63,290.50 603.17,294.85 603.70,297.00 C604.50,300.23 605.30,302.33 606.10,303.50 C606.93,304.72 607.77,306.00 608.60,306.00 C609.40,306.00 610.20,303.79 611.00,301.90 C611.83,299.93 612.67,295.92 613.50,292.20 C614.03,289.82 614.57,286.04 615.10,284.00 C615.63,281.96 616.17,279.10 616.70,279.10 C617.50,279.10 618.30,284.00 619.10,284.00 C619.93,284.00 620.77,282.48 621.60,281.60 C622.40,280.76 623.20,278.80 624.00,278.80 C624.57,278.80 625.13,282.77 625.70,285.70 C626.23,288.46 626.77,294.25 627.30,297.00 C627.83,299.75 628.37,302.58 628.90,303.50 C630.00,305.40 631.10,306.27 632.20,306.80 C634.80,308.06 637.40,309.05 640.00,309.05 C653.67,309.05 667.33,309.05 681.00,309.05" stroke="#000" stroke-width="2"/>
</g>
<g clip-path="url(#cR5)" fill="none" stroke-linejoin="round" stroke-linecap="butt">
<path d="M363.00,370.05 C407.87,370.05 452.73,370.05 497.60,370.05 C499.23,370.05 500.87,367.76 502.50,366.20 C503.87,364.90 505.23,362.10 506.60,361.30 C507.97,360.50 509.33,359.70 510.70,359.70 C512.30,359.70 513.90,359.70 515.50,359.70 C516.60,359.70 517.70,359.24 518.80,358.80 C519.87,358.37 520.93,357.42 522.00,356.40 C522.83,355.60 523.67,353.20 524.50,353.20 C525.30,353.20 526.10,354.82 526.90,356.40 C527.37,357.32 527.83,361.00 528.30,361.00 C529.37,361.00 530.43,357.91 531.50,356.40 C532.87,354.47 534.23,351.82 535.60,350.70 C537.50,349.14 539.40,348.79 541.30,347.50 C543.47,346.02 545.63,343.68 547.80,341.80 C549.70,340.15 551.60,338.09 553.50,336.90 C555.10,335.90 556.70,334.50 558.30,334.50 C559.67,334.50 561.03,336.26 562.40,336.90 C563.77,337.54 565.13,338.50 566.50,338.50 C567.57,338.50 568.63,333.06 569.70,330.40 C570.80,327.66 571.90,322.30 573.00,322.30 C574.07,322.30 575.13,328.16 576.20,332.00 C577.30,335.96 578.40,342.36 579.50,346.70 C580.47,350.51 581.43,357.00 582.40,357.00 C583.23,357.00 584.07,353.68 584.90,351.50 C585.97,348.71 587.03,341.80 588.10,341.00 C588.77,340.50 589.43,340.10 590.10,340.10 C591.07,340.10 592.03,345.00 593.00,345.00 C593.80,345.00 594.60,341.68 595.40,340.10 C596.23,338.45 597.07,335.87 597.90,335.30 C598.97,334.57 600.03,334.00 601.10,334.00 C602.20,334.00 603.30,335.00 604.40,336.10 C605.47,337.16 606.53,342.44 607.60,343.40 C608.03,343.79 608.47,344.20 608.90,344.20 C609.57,344.20 610.23,337.94 610.90,335.30 C611.70,332.13 612.50,326.80 613.30,326.80 C614.13,326.80 614.97,329.96 615.80,332.80 C616.60,335.52 617.40,342.63 618.20,346.70 C619.03,350.93 619.87,355.44 620.70,358.00 C621.77,361.28 622.83,364.54 623.90,365.30 C626.07,366.85 628.23,367.16 630.40,367.80 C633.60,368.75 636.80,370.05 640.00,370.05 C653.67,370.05 667.33,370.05 681.00,370.05" stroke="#5cd4ca" stroke-width="1.3"/>
<path d="M363.00,370.05 C401.33,370.05 439.67,370.05 478.00,370.05 C479.33,370.05 480.67,368.00 482.00,368.00 C483.33,368.00 484.67,368.33 486.00,368.50 C487.33,368.67 488.67,369.00 490.00,369.00 C491.47,369.00 492.93,369.00 494.40,369.00 C497.10,369.00 499.80,367.05 502.50,365.30 C503.87,364.41 505.23,362.33 506.60,361.30 C507.97,360.27 509.33,358.80 510.70,358.80 C512.30,358.80 513.90,359.70 515.50,359.70 C517.13,359.70 518.77,359.08 520.40,358.00 C521.20,357.47 522.00,353.70 522.80,352.30 C523.37,351.31 523.93,349.90 524.50,349.90 C525.30,349.90 526.10,352.62 526.90,354.80 C527.43,356.26 527.97,359.94 528.50,361.00 C528.97,361.93 529.43,362.90 529.90,362.90 C531.23,362.90 532.57,356.04 533.90,354.80 C535.80,353.03 537.70,352.51 539.60,351.50 C541.23,350.64 542.87,350.41 544.50,349.10 C545.33,348.43 546.17,346.73 547.00,345.00 C548.07,342.78 549.13,337.98 550.20,335.60 C551.23,333.29 552.27,330.55 553.30,330.00 C554.37,329.43 555.43,329.26 556.50,329.00 C557.30,328.80 558.10,328.50 558.90,328.50 C559.67,328.50 560.43,331.56 561.20,333.20 C561.87,334.63 562.53,337.39 563.20,337.70 C564.30,338.22 565.40,338.50 566.50,338.50 C567.57,338.50 568.63,334.87 569.70,333.60 C570.80,332.29 571.90,330.40 573.00,330.40 C573.80,330.40 574.60,331.19 575.40,332.00 C576.50,333.12 577.60,337.34 578.70,340.10 C579.77,342.77 580.83,345.36 581.90,348.30 C582.43,349.77 582.97,353.00 583.50,353.00 C584.50,353.00 585.50,347.03 586.50,345.00 C587.30,343.37 588.10,341.00 588.90,341.00 C590.00,341.00 591.10,343.40 592.20,343.40 C593.57,343.40 594.93,340.01 596.30,338.50 C597.90,336.73 599.50,334.39 601.10,333.60 C602.73,332.79 604.37,332.00 606.00,332.00 C607.37,332.00 608.73,332.00 610.10,332.00 C611.17,332.00 612.23,333.24 613.30,334.50 C614.13,335.48 614.97,337.83 615.80,340.10 C616.87,343.01 617.93,348.04 619.00,351.50 C620.10,355.06 621.20,359.37 622.30,361.30 C623.63,363.64 624.97,365.57 626.30,366.20 C628.20,367.10 630.10,367.41 632.00,367.80 C633.63,368.13 635.27,368.32 636.90,368.60 C639.60,369.06 642.30,370.05 645.00,370.05 C657.00,370.05 669.00,370.05 681.00,370.05" stroke="#7a22b0" stroke-width="2" stroke-dasharray="8.5,5"/>
<path d="M363.00,370.05 C400.83,370.05 438.67,370.05 476.50,370.05 C477.30,370.05 478.10,359.85 478.90,354.80 C479.63,350.17 480.37,344.28 481.10,341.00 C481.63,338.61 482.17,335.30 482.70,335.30 C483.60,335.30 484.50,341.00 485.40,341.00 C486.23,341.00 487.07,336.90 487.90,336.90 C488.33,336.90 488.77,337.23 489.20,337.70 C489.83,338.38 490.47,346.78 491.10,351.50 C491.67,355.72 492.23,361.81 492.80,364.50 C493.33,367.04 493.87,370.05 494.40,370.05 C502.53,370.05 510.67,370.05 518.80,370.05 C519.33,370.05 519.87,368.12 520.40,366.20 C520.93,364.28 521.47,359.48 522.00,354.80 C522.57,349.83 523.13,341.41 523.70,335.30 C524.23,329.55 524.77,321.40 525.30,319.00 C525.77,316.90 526.23,314.90 526.70,314.90 C527.23,314.90 527.77,318.87 528.30,321.00 C528.70,322.60 529.10,324.59 529.50,326.00 C530.17,328.36 530.83,331.26 531.50,332.00 C532.30,332.89 533.10,332.62 533.90,333.60 C534.47,334.29 535.03,339.09 535.60,341.80 C536.40,345.63 537.20,350.57 538.00,353.20 C539.10,356.82 540.20,359.72 541.30,361.30 C542.63,363.22 543.97,364.62 545.30,365.30 C546.13,365.73 546.97,366.20 547.80,366.20 C548.87,366.20 549.93,363.83 551.00,362.10 C552.10,360.32 553.20,357.63 554.30,354.80 C555.37,352.06 556.43,347.36 557.50,345.00 C558.60,342.57 559.70,340.94 560.80,339.30 C561.60,338.10 562.40,336.10 563.20,336.10 C564.03,336.10 564.87,337.95 565.70,339.30 C566.33,340.33 566.97,343.40 567.60,343.40 C568.30,343.40 569.00,340.87 569.70,338.50 C570.53,335.68 571.37,326.03 572.20,322.30 C573.17,317.97 574.13,312.50 575.10,312.50 C576.00,312.50 576.90,315.82 577.80,319.00 C578.63,321.95 579.47,329.67 580.30,335.30 C581.00,340.03 581.70,346.48 582.40,350.00 C583.23,354.20 584.07,359.70 584.90,359.70 C585.70,359.70 586.50,351.13 587.30,348.30 C588.23,345.00 589.17,340.50 590.10,340.50 C591.07,340.50 592.03,342.13 593.00,343.40 C594.10,344.85 595.20,349.90 596.30,349.90 C597.37,349.90 598.43,345.93 599.50,344.20 C600.60,342.42 601.70,340.87 602.80,339.30 C603.87,337.78 604.93,334.90 606.00,334.90 C606.83,334.90 607.67,336.90 608.50,336.90 C609.57,336.90 610.63,336.10 611.70,336.10 C612.50,336.10 613.30,340.48 614.10,343.40 C614.93,346.44 615.77,351.57 616.60,354.80 C617.40,357.90 618.20,361.41 619.00,362.90 C620.10,364.95 621.20,366.07 622.30,367.00 C623.93,368.38 625.57,370.05 627.20,370.05 C645.13,370.05 663.07,370.05 681.00,370.05" stroke="#000" stroke-width="2"/>
</g>
<line x1="156.23" y1="117.51" x2="156.23" y2="125.80" stroke="#5cd4ca" stroke-opacity="0.4" stroke-width="0.9"/>
<line x1="167.95" y1="123.34" x2="167.95" y2="125.80" stroke="#5cd4ca" stroke-opacity="0.4" stroke-width="0.9"/>
<line x1="179.67" y1="100.06" x2="179.67" y2="125.80" stroke="#5cd4ca" stroke-opacity="0.4" stroke-width="0.9"/>
<line x1="191.39" y1="71.71" x2="191.39" y2="125.80" stroke="#5cd4ca" stroke-opacity="0.4" stroke-width="0.9"/>
<line x1="203.10" y1="107.60" x2="203.10" y2="125.80" stroke="#5cd4ca" stroke-opacity="0.4" stroke-width="0.9"/>
<line x1="214.82" y1="86.17" x2="214.82" y2="125.80" stroke="#5cd4ca" stroke-opacity="0.4" stroke-width="0.9"/>
<line x1="226.54" y1="64.80" x2="226.54" y2="125.80" stroke="#5cd4ca" stroke-opacity="0.4" stroke-width="0.9"/>
<line x1="238.26" y1="98.83" x2="238.26" y2="125.80" stroke="#5cd4ca" stroke-opacity="0.4" stroke-width="0.9"/>
<line x1="249.98" y1="116.82" x2="249.98" y2="125.80" stroke="#5cd4ca" stroke-opacity="0.4" stroke-width="0.9"/>
<line x1="261.70" y1="122.53" x2="261.70" y2="125.80" stroke="#5cd4ca" stroke-opacity="0.4" stroke-width="0.9"/>
<line x1="156.23" y1="176.09" x2="156.23" y2="186.80" stroke="#5cd4ca" stroke-opacity="0.4" stroke-width="0.9"/>
<line x1="167.95" y1="173.97" x2="167.95" y2="186.80" stroke="#5cd4ca" stroke-opacity="0.4" stroke-width="0.9"/>
<line x1="179.67" y1="178.81" x2="179.67" y2="186.80" stroke="#5cd4ca" stroke-opacity="0.4" stroke-width="0.9"/>
<line x1="191.39" y1="170.43" x2="191.39" y2="186.80" stroke="#5cd4ca" stroke-opacity="0.4" stroke-width="0.9"/>
<line x1="203.10" y1="177.01" x2="203.10" y2="186.80" stroke="#5cd4ca" stroke-opacity="0.4" stroke-width="0.9"/>
<line x1="214.82" y1="164.51" x2="214.82" y2="186.80" stroke="#5cd4ca" stroke-opacity="0.4" stroke-width="0.9"/>
<line x1="226.54" y1="158.80" x2="226.54" y2="186.80" stroke="#5cd4ca" stroke-opacity="0.4" stroke-width="0.9"/>
<line x1="238.26" y1="133.26" x2="238.26" y2="186.80" stroke="#5cd4ca" stroke-opacity="0.4" stroke-width="0.9"/>
<line x1="249.98" y1="137.09" x2="249.98" y2="186.80" stroke="#5cd4ca" stroke-opacity="0.4" stroke-width="0.9"/>
<line x1="261.70" y1="148.83" x2="261.70" y2="186.80" stroke="#5cd4ca" stroke-opacity="0.4" stroke-width="0.9"/>
<line x1="273.42" y1="172.76" x2="273.42" y2="186.80" stroke="#5cd4ca" stroke-opacity="0.4" stroke-width="0.9"/>
<line x1="156.23" y1="236.22" x2="156.23" y2="247.80" stroke="#5cd4ca" stroke-opacity="0.4" stroke-width="0.9"/>
<line x1="167.95" y1="243.42" x2="167.95" y2="247.80" stroke="#5cd4ca" stroke-opacity="0.4" stroke-width="0.9"/>
<line x1="191.39" y1="224.01" x2="191.39" y2="247.80" stroke="#5cd4ca" stroke-opacity="0.4" stroke-width="0.9"/>
<line x1="203.10" y1="233.58" x2="203.10" y2="247.80" stroke="#5cd4ca" stroke-opacity="0.4" stroke-width="0.9"/>
<line x1="214.82" y1="228.30" x2="214.82" y2="247.80" stroke="#5cd4ca" stroke-opacity="0.4" stroke-width="0.9"/>
<line x1="226.54" y1="236.94" x2="226.54" y2="247.80" stroke="#5cd4ca" stroke-opacity="0.4" stroke-width="0.9"/>
<line x1="238.26" y1="193.05" x2="238.26" y2="247.80" stroke="#5cd4ca" stroke-opacity="0.4" stroke-width="0.9"/>
<line x1="249.98" y1="197.49" x2="249.98" y2="247.80" stroke="#5cd4ca" stroke-opacity="0.4" stroke-width="0.9"/>
<line x1="261.70" y1="225.11" x2="261.70" y2="247.80" stroke="#5cd4ca" stroke-opacity="0.4" stroke-width="0.9"/>
<line x1="273.42" y1="197.76" x2="273.42" y2="247.80" stroke="#5cd4ca" stroke-opacity="0.4" stroke-width="0.9"/>
<line x1="285.14" y1="244.08" x2="285.14" y2="247.80" stroke="#5cd4ca" stroke-opacity="0.4" stroke-width="0.9"/>
<line x1="156.23" y1="298.09" x2="156.23" y2="308.80" stroke="#5cd4ca" stroke-opacity="0.4" stroke-width="0.9"/>
<line x1="167.95" y1="295.97" x2="167.95" y2="308.80" stroke="#5cd4ca" stroke-opacity="0.4" stroke-width="0.9"/>
<line x1="179.67" y1="300.81" x2="179.67" y2="308.80" stroke="#5cd4ca" stroke-opacity="0.4" stroke-width="0.9"/>
<line x1="191.39" y1="292.43" x2="191.39" y2="308.80" stroke="#5cd4ca" stroke-opacity="0.4" stroke-width="0.9"/>
<line x1="203.10" y1="299.01" x2="203.10" y2="308.80" stroke="#5cd4ca" stroke-opacity="0.4" stroke-width="0.9"/>
<line x1="214.82" y1="286.51" x2="214.82" y2="308.80" stroke="#5cd4ca" stroke-opacity="0.4" stroke-width="0.9"/>
<line x1="226.54" y1="280.80" x2="226.54" y2="308.80" stroke="#5cd4ca" stroke-opacity="0.4" stroke-width="0.9"/>
<line x1="238.26" y1="255.26" x2="238.26" y2="308.80" stroke="#5cd4ca" stroke-opacity="0.4" stroke-width="0.9"/>
<line x1="249.98" y1="259.09" x2="249.98" y2="308.80" stroke="#5cd4ca" stroke-opacity="0.4" stroke-width="0.9"/>
<line x1="261.70" y1="270.83" x2="261.70" y2="308.80" stroke="#5cd4ca" stroke-opacity="0.4" stroke-width="0.9"/>
<line x1="273.42" y1="294.76" x2="273.42" y2="308.80" stroke="#5cd4ca" stroke-opacity="0.4" stroke-width="0.9"/>
<line x1="156.23" y1="361.51" x2="156.23" y2="369.80" stroke="#5cd4ca" stroke-opacity="0.4" stroke-width="0.9"/>
<line x1="167.95" y1="365.78" x2="167.95" y2="369.80" stroke="#5cd4ca" stroke-opacity="0.4" stroke-width="0.9"/>
<line x1="179.67" y1="347.00" x2="179.67" y2="369.80" stroke="#5cd4ca" stroke-opacity="0.4" stroke-width="0.9"/>
<line x1="191.39" y1="326.35" x2="191.39" y2="369.80" stroke="#5cd4ca" stroke-opacity="0.4" stroke-width="0.9"/>
<line x1="203.10" y1="350.43" x2="203.10" y2="369.80" stroke="#5cd4ca" stroke-opacity="0.4" stroke-width="0.9"/>
<line x1="214.82" y1="330.17" x2="214.82" y2="369.80" stroke="#5cd4ca" stroke-opacity="0.4" stroke-width="0.9"/>
<line x1="226.54" y1="308.80" x2="226.54" y2="369.80" stroke="#5cd4ca" stroke-opacity="0.4" stroke-width="0.9"/>
<line x1="238.26" y1="343.53" x2="238.26" y2="369.80" stroke="#5cd4ca" stroke-opacity="0.4" stroke-width="0.9"/>
<line x1="249.98" y1="361.75" x2="249.98" y2="369.80" stroke="#5cd4ca" stroke-opacity="0.4" stroke-width="0.9"/>
<line x1="261.70" y1="366.88" x2="261.70" y2="369.80" stroke="#5cd4ca" stroke-opacity="0.4" stroke-width="0.9"/>
<line x1="504.28" y1="120.07" x2="504.28" y2="125.80" stroke="#5cd4ca" stroke-opacity="0.4" stroke-width="0.9"/>
<line x1="516.01" y1="115.56" x2="516.01" y2="125.80" stroke="#5cd4ca" stroke-opacity="0.4" stroke-width="0.9"/>
<line x1="527.74" y1="115.16" x2="527.74" y2="125.80" stroke="#5cd4ca" stroke-opacity="0.4" stroke-width="0.9"/>
<line x1="539.47" y1="104.53" x2="539.47" y2="125.80" stroke="#5cd4ca" stroke-opacity="0.4" stroke-width="0.9"/>
<line x1="551.20" y1="94.88" x2="551.20" y2="125.80" stroke="#5cd4ca" stroke-opacity="0.4" stroke-width="0.9"/>
<line x1="562.93" y1="93.11" x2="562.93" y2="125.80" stroke="#5cd4ca" stroke-opacity="0.4" stroke-width="0.9"/>
<line x1="574.66" y1="83.34" x2="574.66" y2="125.80" stroke="#5cd4ca" stroke-opacity="0.4" stroke-width="0.9"/>
<line x1="586.39" y1="102.60" x2="586.39" y2="125.80" stroke="#5cd4ca" stroke-opacity="0.4" stroke-width="0.9"/>
<line x1="598.12" y1="91.21" x2="598.12" y2="125.80" stroke="#5cd4ca" stroke-opacity="0.4" stroke-width="0.9"/>
<line x1="609.85" y1="95.95" x2="609.85" y2="125.80" stroke="#5cd4ca" stroke-opacity="0.4" stroke-width="0.9"/>
<line x1="621.58" y1="116.02" x2="621.58" y2="125.80" stroke="#5cd4ca" stroke-opacity="0.4" stroke-width="0.9"/>
<line x1="492.55" y1="177.38" x2="492.55" y2="186.80" stroke="#5cd4ca" stroke-opacity="0.4" stroke-width="0.9"/>
<line x1="504.28" y1="177.62" x2="504.28" y2="186.80" stroke="#5cd4ca" stroke-opacity="0.4" stroke-width="0.9"/>
<line x1="516.01" y1="168.61" x2="516.01" y2="186.80" stroke="#5cd4ca" stroke-opacity="0.4" stroke-width="0.9"/>
<line x1="527.74" y1="167.05" x2="527.74" y2="186.80" stroke="#5cd4ca" stroke-opacity="0.4" stroke-width="0.9"/>
<line x1="539.47" y1="175.29" x2="539.47" y2="186.80" stroke="#5cd4ca" stroke-opacity="0.4" stroke-width="0.9"/>
<line x1="551.20" y1="174.95" x2="551.20" y2="186.80" stroke="#5cd4ca" stroke-opacity="0.4" stroke-width="0.9"/>
<line x1="562.93" y1="151.86" x2="562.93" y2="186.80" stroke="#5cd4ca" stroke-opacity="0.4" stroke-width="0.9"/>
<line x1="574.66" y1="140.57" x2="574.66" y2="186.80" stroke="#5cd4ca" stroke-opacity="0.4" stroke-width="0.9"/>
<line x1="586.39" y1="159.45" x2="586.39" y2="186.80" stroke="#5cd4ca" stroke-opacity="0.4" stroke-width="0.9"/>
<line x1="598.12" y1="149.83" x2="598.12" y2="186.80" stroke="#5cd4ca" stroke-opacity="0.4" stroke-width="0.9"/>
<line x1="609.85" y1="164.23" x2="609.85" y2="186.80" stroke="#5cd4ca" stroke-opacity="0.4" stroke-width="0.9"/>
<line x1="621.58" y1="176.33" x2="621.58" y2="186.80" stroke="#5cd4ca" stroke-opacity="0.4" stroke-width="0.9"/>
<line x1="633.32" y1="182.14" x2="633.32" y2="186.80" stroke="#5cd4ca" stroke-opacity="0.4" stroke-width="0.9"/>
<line x1="492.55" y1="237.52" x2="492.55" y2="247.80" stroke="#5cd4ca" stroke-opacity="0.4" stroke-width="0.9"/>
<line x1="504.28" y1="241.53" x2="504.28" y2="247.80" stroke="#5cd4ca" stroke-opacity="0.4" stroke-width="0.9"/>
<line x1="516.01" y1="238.37" x2="516.01" y2="247.80" stroke="#5cd4ca" stroke-opacity="0.4" stroke-width="0.9"/>
<line x1="527.74" y1="236.14" x2="527.74" y2="247.80" stroke="#5cd4ca" stroke-opacity="0.4" stroke-width="0.9"/>
<line x1="539.47" y1="232.23" x2="539.47" y2="247.80" stroke="#5cd4ca" stroke-opacity="0.4" stroke-width="0.9"/>
<line x1="551.20" y1="225.35" x2="551.20" y2="247.80" stroke="#5cd4ca" stroke-opacity="0.4" stroke-width="0.9"/>
<line x1="562.93" y1="231.67" x2="562.93" y2="247.80" stroke="#5cd4ca" stroke-opacity="0.4" stroke-width="0.9"/>
<line x1="574.66" y1="212.78" x2="574.66" y2="247.80" stroke="#5cd4ca" stroke-opacity="0.4" stroke-width="0.9"/>
<line x1="586.39" y1="226.00" x2="586.39" y2="247.80" stroke="#5cd4ca" stroke-opacity="0.4" stroke-width="0.9"/>
<line x1="598.12" y1="198.07" x2="598.12" y2="247.80" stroke="#5cd4ca" stroke-opacity="0.4" stroke-width="0.9"/>
<line x1="609.85" y1="218.81" x2="609.85" y2="247.80" stroke="#5cd4ca" stroke-opacity="0.4" stroke-width="0.9"/>
<line x1="621.58" y1="234.51" x2="621.58" y2="247.80" stroke="#5cd4ca" stroke-opacity="0.4" stroke-width="0.9"/>
<line x1="633.32" y1="229.06" x2="633.32" y2="247.80" stroke="#5cd4ca" stroke-opacity="0.4" stroke-width="0.9"/>
<line x1="645.05" y1="239.72" x2="645.05" y2="247.80" stroke="#5cd4ca" stroke-opacity="0.4" stroke-width="0.9"/>
<line x1="492.55" y1="299.38" x2="492.55" y2="308.80" stroke="#5cd4ca" stroke-opacity="0.4" stroke-width="0.9"/>
<line x1="504.28" y1="299.62" x2="504.28" y2="308.80" stroke="#5cd4ca" stroke-opacity="0.4" stroke-width="0.9"/>
<line x1="516.01" y1="290.61" x2="516.01" y2="308.80" stroke="#5cd4ca" stroke-opacity="0.4" stroke-width="0.9"/>
<line x1="527.74" y1="289.05" x2="527.74" y2="308.80" stroke="#5cd4ca" stroke-opacity="0.4" stroke-width="0.9"/>
<line x1="539.47" y1="297.29" x2="539.47" y2="308.80" stroke="#5cd4ca" stroke-opacity="0.4" stroke-width="0.9"/>
<line x1="551.20" y1="296.95" x2="551.20" y2="308.80" stroke="#5cd4ca" stroke-opacity="0.4" stroke-width="0.9"/>
<line x1="562.93" y1="273.86" x2="562.93" y2="308.80" stroke="#5cd4ca" stroke-opacity="0.4" stroke-width="0.9"/>
<line x1="574.66" y1="262.57" x2="574.66" y2="308.80" stroke="#5cd4ca" stroke-opacity="0.4" stroke-width="0.9"/>
<line x1="586.39" y1="281.45" x2="586.39" y2="308.80" stroke="#5cd4ca" stroke-opacity="0.4" stroke-width="0.9"/>
<line x1="598.12" y1="271.83" x2="598.12" y2="308.80" stroke="#5cd4ca" stroke-opacity="0.4" stroke-width="0.9"/>
<line x1="609.85" y1="286.23" x2="609.85" y2="308.80" stroke="#5cd4ca" stroke-opacity="0.4" stroke-width="0.9"/>
<line x1="621.58" y1="298.33" x2="621.58" y2="308.80" stroke="#5cd4ca" stroke-opacity="0.4" stroke-width="0.9"/>
<line x1="633.32" y1="304.14" x2="633.32" y2="308.80" stroke="#5cd4ca" stroke-opacity="0.4" stroke-width="0.9"/>
<line x1="504.28" y1="364.07" x2="504.28" y2="369.80" stroke="#5cd4ca" stroke-opacity="0.4" stroke-width="0.9"/>
<line x1="516.01" y1="359.56" x2="516.01" y2="369.80" stroke="#5cd4ca" stroke-opacity="0.4" stroke-width="0.9"/>
<line x1="527.74" y1="359.16" x2="527.74" y2="369.80" stroke="#5cd4ca" stroke-opacity="0.4" stroke-width="0.9"/>
<line x1="539.47" y1="348.53" x2="539.47" y2="369.80" stroke="#5cd4ca" stroke-opacity="0.4" stroke-width="0.9"/>
<line x1="551.20" y1="338.88" x2="551.20" y2="369.80" stroke="#5cd4ca" stroke-opacity="0.4" stroke-width="0.9"/>
<line x1="562.93" y1="337.11" x2="562.93" y2="369.80" stroke="#5cd4ca" stroke-opacity="0.4" stroke-width="0.9"/>
<line x1="574.66" y1="327.34" x2="574.66" y2="369.80" stroke="#5cd4ca" stroke-opacity="0.4" stroke-width="0.9"/>
<line x1="586.39" y1="346.60" x2="586.39" y2="369.80" stroke="#5cd4ca" stroke-opacity="0.4" stroke-width="0.9"/>
<line x1="598.12" y1="335.21" x2="598.12" y2="369.80" stroke="#5cd4ca" stroke-opacity="0.4" stroke-width="0.9"/>
<line x1="609.85" y1="339.95" x2="609.85" y2="369.80" stroke="#5cd4ca" stroke-opacity="0.4" stroke-width="0.9"/>
<line x1="621.58" y1="360.02" x2="621.58" y2="369.80" stroke="#5cd4ca" stroke-opacity="0.4" stroke-width="0.9"/>
<line x1="153.40" y1="3.8" x2="153.40" y2="369.80" stroke="#652558" stroke-width="1.35" stroke-dasharray="9.7,4.03" stroke-dashoffset="1.73"/>
<line x1="489.60" y1="3.8" x2="489.60" y2="369.80" stroke="#652558" stroke-width="1.35" stroke-dasharray="9.7,4.03" stroke-dashoffset="1.73"/>
<line x1="26.90" y1="19.05" x2="31.40" y2="19.05" stroke="#000" stroke-width="1.6"/>
<line x1="26.90" y1="34.30" x2="35.40" y2="34.30" stroke="#000" stroke-width="1.6"/>
<line x1="26.90" y1="49.55" x2="31.40" y2="49.55" stroke="#000" stroke-width="1.6"/>
<line x1="58.66" y1="64.80" x2="58.66" y2="60.30" stroke="#000" stroke-width="1.6"/>
<line x1="90.42" y1="64.80" x2="90.42" y2="55.80" stroke="#000" stroke-width="1.6"/>
<line x1="122.18" y1="64.80" x2="122.18" y2="60.30" stroke="#000" stroke-width="1.6"/>
<line x1="185.70" y1="64.80" x2="185.70" y2="60.30" stroke="#000" stroke-width="1.6"/>
<line x1="217.46" y1="64.80" x2="217.46" y2="55.80" stroke="#000" stroke-width="1.6"/>
<line x1="249.22" y1="64.80" x2="249.22" y2="60.30" stroke="#000" stroke-width="1.6"/>
<line x1="280.98" y1="64.80" x2="280.98" y2="55.80" stroke="#000" stroke-width="1.6"/>
<line x1="312.74" y1="64.80" x2="312.74" y2="60.30" stroke="#000" stroke-width="1.6"/>
<line x1="26.90" y1="80.05" x2="31.40" y2="80.05" stroke="#000" stroke-width="1.6"/>
<line x1="26.90" y1="95.30" x2="35.40" y2="95.30" stroke="#000" stroke-width="1.6"/>
<line x1="26.90" y1="110.55" x2="31.40" y2="110.55" stroke="#000" stroke-width="1.6"/>
<line x1="58.66" y1="125.80" x2="58.66" y2="121.30" stroke="#000" stroke-width="1.6"/>
<line x1="90.42" y1="125.80" x2="90.42" y2="116.80" stroke="#000" stroke-width="1.6"/>
<line x1="122.18" y1="125.80" x2="122.18" y2="121.30" stroke="#000" stroke-width="1.6"/>
<line x1="185.70" y1="125.80" x2="185.70" y2="121.30" stroke="#000" stroke-width="1.6"/>
<line x1="217.46" y1="125.80" x2="217.46" y2="116.80" stroke="#000" stroke-width="1.6"/>
<line x1="249.22" y1="125.80" x2="249.22" y2="121.30" stroke="#000" stroke-width="1.6"/>
<line x1="280.98" y1="125.80" x2="280.98" y2="116.80" stroke="#000" stroke-width="1.6"/>
<line x1="312.74" y1="125.80" x2="312.74" y2="121.30" stroke="#000" stroke-width="1.6"/>
<line x1="26.90" y1="141.05" x2="31.40" y2="141.05" stroke="#000" stroke-width="1.6"/>
<line x1="26.90" y1="156.30" x2="35.40" y2="156.30" stroke="#000" stroke-width="1.6"/>
<line x1="26.90" y1="171.55" x2="31.40" y2="171.55" stroke="#000" stroke-width="1.6"/>
<line x1="58.66" y1="186.80" x2="58.66" y2="182.30" stroke="#000" stroke-width="1.6"/>
<line x1="90.42" y1="186.80" x2="90.42" y2="177.80" stroke="#000" stroke-width="1.6"/>
<line x1="122.18" y1="186.80" x2="122.18" y2="182.30" stroke="#000" stroke-width="1.6"/>
<line x1="185.70" y1="186.80" x2="185.70" y2="182.30" stroke="#000" stroke-width="1.6"/>
<line x1="217.46" y1="186.80" x2="217.46" y2="177.80" stroke="#000" stroke-width="1.6"/>
<line x1="249.22" y1="186.80" x2="249.22" y2="182.30" stroke="#000" stroke-width="1.6"/>
<line x1="280.98" y1="186.80" x2="280.98" y2="177.80" stroke="#000" stroke-width="1.6"/>
<line x1="312.74" y1="186.80" x2="312.74" y2="182.30" stroke="#000" stroke-width="1.6"/>
<line x1="26.90" y1="202.05" x2="31.40" y2="202.05" stroke="#000" stroke-width="1.6"/>
<line x1="26.90" y1="217.30" x2="35.40" y2="217.30" stroke="#000" stroke-width="1.6"/>
<line x1="26.90" y1="232.55" x2="31.40" y2="232.55" stroke="#000" stroke-width="1.6"/>
<line x1="58.66" y1="247.80" x2="58.66" y2="243.30" stroke="#000" stroke-width="1.6"/>
<line x1="90.42" y1="247.80" x2="90.42" y2="238.80" stroke="#000" stroke-width="1.6"/>
<line x1="122.18" y1="247.80" x2="122.18" y2="243.30" stroke="#000" stroke-width="1.6"/>
<line x1="185.70" y1="247.80" x2="185.70" y2="243.30" stroke="#000" stroke-width="1.6"/>
<line x1="217.46" y1="247.80" x2="217.46" y2="238.80" stroke="#000" stroke-width="1.6"/>
<line x1="249.22" y1="247.80" x2="249.22" y2="243.30" stroke="#000" stroke-width="1.6"/>
<line x1="280.98" y1="247.80" x2="280.98" y2="238.80" stroke="#000" stroke-width="1.6"/>
<line x1="312.74" y1="247.80" x2="312.74" y2="243.30" stroke="#000" stroke-width="1.6"/>
<line x1="26.90" y1="263.05" x2="31.40" y2="263.05" stroke="#000" stroke-width="1.6"/>
<line x1="26.90" y1="278.30" x2="35.40" y2="278.30" stroke="#000" stroke-width="1.6"/>
<line x1="26.90" y1="293.55" x2="31.40" y2="293.55" stroke="#000" stroke-width="1.6"/>
<line x1="58.66" y1="308.80" x2="58.66" y2="304.30" stroke="#000" stroke-width="1.6"/>
<line x1="90.42" y1="308.80" x2="90.42" y2="299.80" stroke="#000" stroke-width="1.6"/>
<line x1="122.18" y1="308.80" x2="122.18" y2="304.30" stroke="#000" stroke-width="1.6"/>
<line x1="185.70" y1="308.80" x2="185.70" y2="304.30" stroke="#000" stroke-width="1.6"/>
<line x1="217.46" y1="308.80" x2="217.46" y2="299.80" stroke="#000" stroke-width="1.6"/>
<line x1="249.22" y1="308.80" x2="249.22" y2="304.30" stroke="#000" stroke-width="1.6"/>
<line x1="280.98" y1="308.80" x2="280.98" y2="299.80" stroke="#000" stroke-width="1.6"/>
<line x1="312.74" y1="308.80" x2="312.74" y2="304.30" stroke="#000" stroke-width="1.6"/>
<line x1="26.90" y1="324.05" x2="31.40" y2="324.05" stroke="#000" stroke-width="1.6"/>
<line x1="26.90" y1="339.30" x2="35.40" y2="339.30" stroke="#000" stroke-width="1.6"/>
<line x1="26.90" y1="354.55" x2="31.40" y2="354.55" stroke="#000" stroke-width="1.6"/>
<line x1="58.66" y1="369.80" x2="58.66" y2="365.30" stroke="#000" stroke-width="1.6"/>
<line x1="90.42" y1="369.80" x2="90.42" y2="360.80" stroke="#000" stroke-width="1.6"/>
<line x1="122.18" y1="369.80" x2="122.18" y2="365.30" stroke="#000" stroke-width="1.6"/>
<line x1="185.70" y1="369.80" x2="185.70" y2="365.30" stroke="#000" stroke-width="1.6"/>
<line x1="217.46" y1="369.80" x2="217.46" y2="360.80" stroke="#000" stroke-width="1.6"/>
<line x1="249.22" y1="369.80" x2="249.22" y2="365.30" stroke="#000" stroke-width="1.6"/>
<line x1="280.98" y1="369.80" x2="280.98" y2="360.80" stroke="#000" stroke-width="1.6"/>
<line x1="312.74" y1="369.80" x2="312.74" y2="365.30" stroke="#000" stroke-width="1.6"/>
<rect x="26.90" y="3.80" width="317.60" height="366.00" fill="none" stroke="#000" stroke-width="1.8"/>
<line x1="26.90" y1="64.80" x2="344.50" y2="64.80" stroke="#000" stroke-width="1.8"/>
<line x1="26.90" y1="125.80" x2="344.50" y2="125.80" stroke="#000" stroke-width="1.8"/>
<line x1="26.90" y1="186.80" x2="344.50" y2="186.80" stroke="#000" stroke-width="1.8"/>
<line x1="26.90" y1="247.80" x2="344.50" y2="247.80" stroke="#000" stroke-width="1.8"/>
<line x1="26.90" y1="308.80" x2="344.50" y2="308.80" stroke="#000" stroke-width="1.8"/>
<line x1="363.10" y1="19.05" x2="367.60" y2="19.05" stroke="#000" stroke-width="1.6"/>
<line x1="363.10" y1="34.30" x2="371.60" y2="34.30" stroke="#000" stroke-width="1.6"/>
<line x1="363.10" y1="49.55" x2="367.60" y2="49.55" stroke="#000" stroke-width="1.6"/>
<line x1="394.89" y1="64.80" x2="394.89" y2="60.30" stroke="#000" stroke-width="1.6"/>
<line x1="426.68" y1="64.80" x2="426.68" y2="55.80" stroke="#000" stroke-width="1.6"/>
<line x1="458.47" y1="64.80" x2="458.47" y2="60.30" stroke="#000" stroke-width="1.6"/>
<line x1="522.05" y1="64.80" x2="522.05" y2="60.30" stroke="#000" stroke-width="1.6"/>
<line x1="553.84" y1="64.80" x2="553.84" y2="55.80" stroke="#000" stroke-width="1.6"/>
<line x1="585.63" y1="64.80" x2="585.63" y2="60.30" stroke="#000" stroke-width="1.6"/>
<line x1="617.42" y1="64.80" x2="617.42" y2="55.80" stroke="#000" stroke-width="1.6"/>
<line x1="649.21" y1="64.80" x2="649.21" y2="60.30" stroke="#000" stroke-width="1.6"/>
<line x1="363.10" y1="80.05" x2="367.60" y2="80.05" stroke="#000" stroke-width="1.6"/>
<line x1="363.10" y1="95.30" x2="371.60" y2="95.30" stroke="#000" stroke-width="1.6"/>
<line x1="363.10" y1="110.55" x2="367.60" y2="110.55" stroke="#000" stroke-width="1.6"/>
<line x1="394.89" y1="125.80" x2="394.89" y2="121.30" stroke="#000" stroke-width="1.6"/>
<line x1="426.68" y1="125.80" x2="426.68" y2="116.80" stroke="#000" stroke-width="1.6"/>
<line x1="458.47" y1="125.80" x2="458.47" y2="121.30" stroke="#000" stroke-width="1.6"/>
<line x1="522.05" y1="125.80" x2="522.05" y2="121.30" stroke="#000" stroke-width="1.6"/>
<line x1="553.84" y1="125.80" x2="553.84" y2="116.80" stroke="#000" stroke-width="1.6"/>
<line x1="585.63" y1="125.80" x2="585.63" y2="121.30" stroke="#000" stroke-width="1.6"/>
<line x1="617.42" y1="125.80" x2="617.42" y2="116.80" stroke="#000" stroke-width="1.6"/>
<line x1="649.21" y1="125.80" x2="649.21" y2="121.30" stroke="#000" stroke-width="1.6"/>
<line x1="363.10" y1="141.05" x2="367.60" y2="141.05" stroke="#000" stroke-width="1.6"/>
<line x1="363.10" y1="156.30" x2="371.60" y2="156.30" stroke="#000" stroke-width="1.6"/>
<line x1="363.10" y1="171.55" x2="367.60" y2="171.55" stroke="#000" stroke-width="1.6"/>
<line x1="394.89" y1="186.80" x2="394.89" y2="182.30" stroke="#000" stroke-width="1.6"/>
<line x1="426.68" y1="186.80" x2="426.68" y2="177.80" stroke="#000" stroke-width="1.6"/>
<line x1="458.47" y1="186.80" x2="458.47" y2="182.30" stroke="#000" stroke-width="1.6"/>
<line x1="522.05" y1="186.80" x2="522.05" y2="182.30" stroke="#000" stroke-width="1.6"/>
<line x1="553.84" y1="186.80" x2="553.84" y2="177.80" stroke="#000" stroke-width="1.6"/>
<line x1="585.63" y1="186.80" x2="585.63" y2="182.30" stroke="#000" stroke-width="1.6"/>
<line x1="617.42" y1="186.80" x2="617.42" y2="177.80" stroke="#000" stroke-width="1.6"/>
<line x1="649.21" y1="186.80" x2="649.21" y2="182.30" stroke="#000" stroke-width="1.6"/>
<line x1="363.10" y1="202.05" x2="367.60" y2="202.05" stroke="#000" stroke-width="1.6"/>
<line x1="363.10" y1="217.30" x2="371.60" y2="217.30" stroke="#000" stroke-width="1.6"/>
<line x1="363.10" y1="232.55" x2="367.60" y2="232.55" stroke="#000" stroke-width="1.6"/>
<line x1="394.89" y1="247.80" x2="394.89" y2="243.30" stroke="#000" stroke-width="1.6"/>
<line x1="426.68" y1="247.80" x2="426.68" y2="238.80" stroke="#000" stroke-width="1.6"/>
<line x1="458.47" y1="247.80" x2="458.47" y2="243.30" stroke="#000" stroke-width="1.6"/>
<line x1="522.05" y1="247.80" x2="522.05" y2="243.30" stroke="#000" stroke-width="1.6"/>
<line x1="553.84" y1="247.80" x2="553.84" y2="238.80" stroke="#000" stroke-width="1.6"/>
<line x1="585.63" y1="247.80" x2="585.63" y2="243.30" stroke="#000" stroke-width="1.6"/>
<line x1="617.42" y1="247.80" x2="617.42" y2="238.80" stroke="#000" stroke-width="1.6"/>
<line x1="649.21" y1="247.80" x2="649.21" y2="243.30" stroke="#000" stroke-width="1.6"/>
<line x1="363.10" y1="263.05" x2="367.60" y2="263.05" stroke="#000" stroke-width="1.6"/>
<line x1="363.10" y1="278.30" x2="371.60" y2="278.30" stroke="#000" stroke-width="1.6"/>
<line x1="363.10" y1="293.55" x2="367.60" y2="293.55" stroke="#000" stroke-width="1.6"/>
<line x1="394.89" y1="308.80" x2="394.89" y2="304.30" stroke="#000" stroke-width="1.6"/>
<line x1="426.68" y1="308.80" x2="426.68" y2="299.80" stroke="#000" stroke-width="1.6"/>
<line x1="458.47" y1="308.80" x2="458.47" y2="304.30" stroke="#000" stroke-width="1.6"/>
<line x1="522.05" y1="308.80" x2="522.05" y2="304.30" stroke="#000" stroke-width="1.6"/>
<line x1="553.84" y1="308.80" x2="553.84" y2="299.80" stroke="#000" stroke-width="1.6"/>
<line x1="585.63" y1="308.80" x2="585.63" y2="304.30" stroke="#000" stroke-width="1.6"/>
<line x1="617.42" y1="308.80" x2="617.42" y2="299.80" stroke="#000" stroke-width="1.6"/>
<line x1="649.21" y1="308.80" x2="649.21" y2="304.30" stroke="#000" stroke-width="1.6"/>
<line x1="363.10" y1="324.05" x2="367.60" y2="324.05" stroke="#000" stroke-width="1.6"/>
<line x1="363.10" y1="339.30" x2="371.60" y2="339.30" stroke="#000" stroke-width="1.6"/>
<line x1="363.10" y1="354.55" x2="367.60" y2="354.55" stroke="#000" stroke-width="1.6"/>
<line x1="394.89" y1="369.80" x2="394.89" y2="365.30" stroke="#000" stroke-width="1.6"/>
<line x1="426.68" y1="369.80" x2="426.68" y2="360.80" stroke="#000" stroke-width="1.6"/>
<line x1="458.47" y1="369.80" x2="458.47" y2="365.30" stroke="#000" stroke-width="1.6"/>
<line x1="522.05" y1="369.80" x2="522.05" y2="365.30" stroke="#000" stroke-width="1.6"/>
<line x1="553.84" y1="369.80" x2="553.84" y2="360.80" stroke="#000" stroke-width="1.6"/>
<line x1="585.63" y1="369.80" x2="585.63" y2="365.30" stroke="#000" stroke-width="1.6"/>
<line x1="617.42" y1="369.80" x2="617.42" y2="360.80" stroke="#000" stroke-width="1.6"/>
<line x1="649.21" y1="369.80" x2="649.21" y2="365.30" stroke="#000" stroke-width="1.6"/>
<rect x="363.10" y="3.80" width="317.90" height="366.00" fill="none" stroke="#000" stroke-width="1.8"/>
<line x1="363.10" y1="64.80" x2="681.00" y2="64.80" stroke="#000" stroke-width="1.8"/>
<line x1="363.10" y1="125.80" x2="681.00" y2="125.80" stroke="#000" stroke-width="1.8"/>
<line x1="363.10" y1="186.80" x2="681.00" y2="186.80" stroke="#000" stroke-width="1.8"/>
<line x1="363.10" y1="247.80" x2="681.00" y2="247.80" stroke="#000" stroke-width="1.8"/>
<line x1="363.10" y1="308.80" x2="681.00" y2="308.80" stroke="#000" stroke-width="1.8"/>
<text x="28.80" y="384.3" font-family='"Liberation Serif", serif' font-weight="bold" font-size="12" text-anchor="middle">-2</text>
<text x="92.32" y="384.3" font-family='"Liberation Serif", serif' font-weight="bold" font-size="12" text-anchor="middle">-1</text>
<text x="154.54" y="384.3" font-family='"Liberation Serif", serif' font-weight="bold" font-size="12" text-anchor="middle">0</text>
<text x="218.06" y="384.3" font-family='"Liberation Serif", serif' font-weight="bold" font-size="12" text-anchor="middle">1</text>
<text x="281.58" y="384.3" font-family='"Liberation Serif", serif' font-weight="bold" font-size="12" text-anchor="middle">2</text>
<text x="345.10" y="384.3" font-family='"Liberation Serif", serif' font-weight="bold" font-size="12" text-anchor="middle">3</text>
<text x="22.30" y="313.70" font-family='"Liberation Serif", serif' font-weight="bold" font-size="12" text-anchor="end">2</text>
<text x="22.30" y="344.20" font-family='"Liberation Serif", serif' font-weight="bold" font-size="12" text-anchor="end">1</text>
<text x="22.30" y="374.70" font-family='"Liberation Serif", serif' font-weight="bold" font-size="12" text-anchor="end">0</text>
<text x="186.10" y="401" font-family='"Liberation Serif", serif' font-weight="bold" font-size="18" text-anchor="middle" textLength="88.4" lengthAdjust="spacingAndGlyphs">Energy(eV)</text>
<text x="365.00" y="384.3" font-family='"Liberation Serif", serif' font-weight="bold" font-size="12" text-anchor="middle">-2</text>
<text x="428.58" y="384.3" font-family='"Liberation Serif", serif' font-weight="bold" font-size="12" text-anchor="middle">-1</text>
<text x="490.86" y="384.3" font-family='"Liberation Serif", serif' font-weight="bold" font-size="12" text-anchor="middle">0</text>
<text x="554.44" y="384.3" font-family='"Liberation Serif", serif' font-weight="bold" font-size="12" text-anchor="middle">1</text>
<text x="618.02" y="384.3" font-family='"Liberation Serif", serif' font-weight="bold" font-size="12" text-anchor="middle">2</text>
<text x="681.60" y="384.3" font-family='"Liberation Serif", serif' font-weight="bold" font-size="12" text-anchor="middle">3</text>
<text x="358.50" y="313.70" font-family='"Liberation Serif", serif' font-weight="bold" font-size="12" text-anchor="end">2</text>
<text x="358.50" y="344.20" font-family='"Liberation Serif", serif' font-weight="bold" font-size="12" text-anchor="end">1</text>
<text x="358.50" y="374.70" font-family='"Liberation Serif", serif' font-weight="bold" font-size="12" text-anchor="end">0</text>
<text x="522.45" y="401" font-family='"Liberation Serif", serif' font-weight="bold" font-size="18" text-anchor="middle" textLength="88.4" lengthAdjust="spacingAndGlyphs">Energy(eV)</text>
<text transform="translate(15.0,179.5) rotate(-90)" x="0" y="0" font-family='"Liberation Serif", serif' font-weight="bold" font-size="18" text-anchor="middle" textLength="167.5" lengthAdjust="spacingAndGlyphs">Ti - d DOS (states/eV)</text>
<text transform="translate(46.00,26.90) scale(1,1.08)" font-family='"Liberation Serif", serif' font-weight="bold" font-size="13">GTO</text>
<text transform="translate(45.80,77.70) scale(1,1.08)" font-family='"Liberation Serif", serif' font-weight="bold" font-size="13">IF</text>
<text transform="translate(40.60,219.10) scale(1,1.08)" font-family='"Liberation Serif", serif' font-weight="bold" font-size="13">STO</text>
<text transform="translate(45.60,364.50) scale(1,1.08)" font-family='"Liberation Serif", serif' font-weight="bold" font-size="13">IF</text>
<text transform="translate(386.70,27.60) scale(1,1.08)" font-family='"Liberation Serif", serif' font-weight="bold" font-size="13">LAO</text>
<text transform="translate(382.60,80.60) scale(1,1.08)" font-family='"Liberation Serif", serif' font-weight="bold" font-size="13">IF</text>
<text transform="translate(375.80,218.20) scale(1,1.08)" font-family='"Liberation Serif", serif' font-weight="bold" font-size="13">STO</text>
<text transform="translate(379.40,363.00) scale(1,1.08)" font-family='"Liberation Serif", serif' font-weight="bold" font-size="13">IF</text>
<rect x="232.90" y="10.3" width="50.30" height="42.1" fill="#fff" stroke="#000" stroke-width="1.4"/>
<line x1="238.50" y1="18" x2="257.00" y2="18" stroke="#5cd4ca" stroke-width="1.6"/>
<line x1="238.50" y1="29.8" x2="257.00" y2="29.8" stroke="#7a22b0" stroke-width="2" stroke-dasharray="8,5.5"/>
<line x1="238.50" y1="42.7" x2="257.00" y2="42.7" stroke="#000" stroke-width="2"/>
<text x="266.80" y="21.00" font-family='"Liberation Serif", serif' font-weight="bold" font-size="12.5">xz</text>
<text x="266.80" y="32.80" font-family='"Liberation Serif", serif' font-weight="bold" font-size="12.5">yz</text>
<text x="266.80" y="44.20" font-family='"Liberation Serif", serif' font-weight="bold" font-size="12.5">xy</text>
<rect x="568.80" y="10.3" width="50.70" height="42.1" fill="#fff" stroke="#000" stroke-width="1.4"/>
<line x1="574.30" y1="18" x2="592.80" y2="18" stroke="#5cd4ca" stroke-width="1.6"/>
<line x1="574.30" y1="29.8" x2="592.80" y2="29.8" stroke="#7a22b0" stroke-width="2" stroke-dasharray="8,5.5"/>
<line x1="574.30" y1="42.7" x2="592.80" y2="42.7" stroke="#000" stroke-width="2"/>
<text x="601.80" y="21.00" font-family='"Liberation Serif", serif' font-weight="bold" font-size="12.5">xz</text>
<text x="601.80" y="32.80" font-family='"Liberation Serif", serif' font-weight="bold" font-size="12.5">yz</text>
<text x="601.80" y="44.20" font-family='"Liberation Serif", serif' font-weight="bold" font-size="12.5">xy</text>
<line x1="51.20" y1="136.8" x2="51.20" y2="198.6" stroke="#000" stroke-width="1.3" stroke-dasharray="6.9,4"/>
<line x1="51.20" y1="230.8" x2="51.20" y2="303.2" stroke="#000" stroke-width="1.3" stroke-dasharray="6.9,4"/>
<line x1="51.20" y1="303.0" x2="51.20" y2="307.6" stroke="#000" stroke-width="1.3"/>
<polygon points="48.30,133.4 51.20,127.9 54.10,133.4 51.20,132.4" fill="#000" stroke="#000" stroke-width="0.8" stroke-linejoin="miter"/>
<polyline points="48.50,303.2 51.20,308 53.90,303.2" fill="none" stroke="#000" stroke-width="1.3"/>
<line x1="384.70" y1="136.8" x2="384.70" y2="198.6" stroke="#000" stroke-width="1.3" stroke-dasharray="6.9,4"/>
<line x1="384.70" y1="230.8" x2="384.70" y2="303.2" stroke="#000" stroke-width="1.3" stroke-dasharray="6.9,4"/>
<line x1="384.70" y1="303.0" x2="384.70" y2="307.6" stroke="#000" stroke-width="1.3"/>
<polygon points="381.80,133.4 384.70,127.9 387.60,133.4 384.70,132.4" fill="#000" stroke="#000" stroke-width="0.8" stroke-linejoin="miter"/>
<polyline points="382.00,303.2 384.70,308 387.40,303.2" fill="none" stroke="#000" stroke-width="1.3"/>
</svg></body></html>
